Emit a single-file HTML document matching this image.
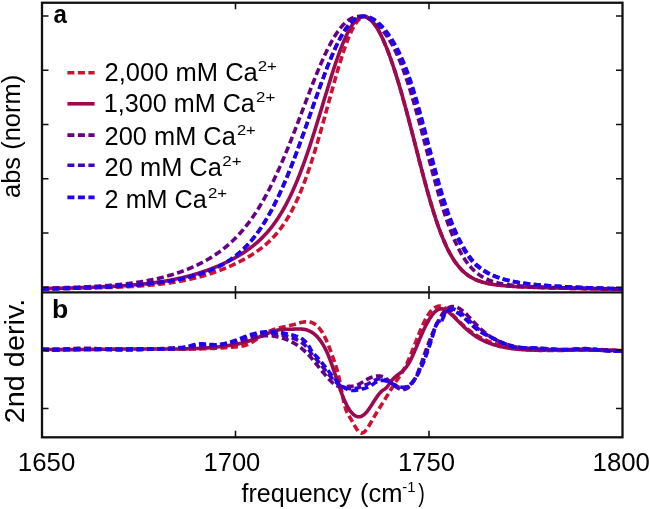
<!DOCTYPE html>
<html><head><meta charset="utf-8"><style>
html,body{margin:0;padding:0;background:#fff;width:650px;height:509px;overflow:hidden;}
svg{display:block;}
.t text{font-family:"Liberation Sans",sans-serif;fill:#000;}
</style></head><body>
<svg width="650" height="509" viewBox="0 0 650 509">
<rect width="650" height="509" fill="#fff"/>
<defs><clipPath id="ca"><rect x="42.0" y="2.75" width="580.5" height="289.7"/></clipPath><clipPath id="cb"><rect x="42.0" y="292.45" width="580.5" height="144.85000000000002"/></clipPath></defs><path d="M42.00,288.76 L43.00,288.75 L44.00,288.74 L45.00,288.73 L46.00,288.72 L47.00,288.70 L48.00,288.69 L49.00,288.68 L50.00,288.67 L51.00,288.65 L52.00,288.64 L53.00,288.63 L54.00,288.61 L55.00,288.60 L56.00,288.59 L57.00,288.57 L58.00,288.56 L59.00,288.54 L60.00,288.53 L61.00,288.52 L62.00,288.50 L63.00,288.49 L64.00,288.47 L65.00,288.45 L66.00,288.44 L67.00,288.42 L68.00,288.41 L69.00,288.39 L70.00,288.37 L71.00,288.36 L72.00,288.34 L73.00,288.32 L74.00,288.31 L75.00,288.29 L76.00,288.27 L77.00,288.25 L78.00,288.23 L79.00,288.22 L80.00,288.20 L81.00,288.18 L82.00,288.16 L83.00,288.14 L84.00,288.12 L85.00,288.10 L86.00,288.07 L87.00,288.05 L88.00,288.03 L89.00,288.01 L90.00,287.99 L91.00,287.96 L92.00,287.94 L93.00,287.92 L94.00,287.89 L95.00,287.87 L96.00,287.84 L97.00,287.82 L98.00,287.79 L99.00,287.76 L100.00,287.74 L101.00,287.71 L102.00,287.68 L103.00,287.65 L104.00,287.62 L105.00,287.59 L106.00,287.56 L107.00,287.53 L108.00,287.50 L109.00,287.46 L110.00,287.43 L111.00,287.40 L112.00,287.36 L113.00,287.32 L114.00,287.29 L115.00,287.25 L116.00,287.21 L117.00,287.17 L118.00,287.13 L119.00,287.09 L120.00,287.05 L121.00,287.01 L122.00,286.96 L123.00,286.92 L124.00,286.87 L125.00,286.82 L126.00,286.78 L127.00,286.73 L128.00,286.67 L129.00,286.62 L130.00,286.57 L131.00,286.51 L132.00,286.46 L133.00,286.40 L134.00,286.34 L135.00,286.28 L136.00,286.22 L137.00,286.16 L138.00,286.09 L139.00,286.03 L140.00,285.96 L141.00,285.89 L142.00,285.82 L143.00,285.74 L144.00,285.67 L145.00,285.59 L146.00,285.51 L147.00,285.43 L148.00,285.35 L149.00,285.26 L150.00,285.17 L151.00,285.08 L152.00,284.99 L153.00,284.90 L154.00,284.80 L155.00,284.70 L156.00,284.60 L157.00,284.49 L158.00,284.39 L159.00,284.28 L160.00,284.17 L161.00,284.05 L162.00,283.93 L163.00,283.81 L164.00,283.69 L165.00,283.56 L166.00,283.43 L167.00,283.30 L168.00,283.17 L169.00,283.03 L170.00,282.89 L171.00,282.74 L172.00,282.59 L173.00,282.44 L174.00,282.28 L175.00,282.12 L176.00,281.96 L177.00,281.79 L178.00,281.62 L179.00,281.45 L180.00,281.27 L181.00,281.09 L182.00,280.90 L183.00,280.71 L184.00,280.51 L185.00,280.32 L186.00,280.11 L187.00,279.91 L188.00,279.69 L189.00,279.48 L190.00,279.26 L191.00,279.03 L192.00,278.80 L193.00,278.57 L194.00,278.33 L195.00,278.08 L196.00,277.84 L197.00,277.58 L198.00,277.32 L199.00,277.06 L200.00,276.79 L201.00,276.52 L202.00,276.24 L203.00,275.96 L204.00,275.67 L205.00,275.37 L206.00,275.08 L207.00,274.77 L208.00,274.46 L209.00,274.15 L210.00,273.83 L211.00,273.50 L212.00,273.17 L213.00,272.83 L214.00,272.49 L215.00,272.14 L216.00,271.79 L217.00,271.43 L218.00,271.06 L219.00,270.69 L220.00,270.32 L221.00,269.93 L222.00,269.55 L223.00,269.15 L224.00,268.75 L225.00,268.34 L226.00,267.93 L227.00,267.51 L228.00,267.09 L229.00,266.66 L230.00,266.22 L231.00,265.78 L232.00,265.32 L233.00,264.87 L234.00,264.40 L235.00,263.93 L236.00,263.45 L237.00,262.97 L238.00,262.47 L239.00,261.97 L240.00,261.46 L241.00,260.95 L242.00,260.42 L243.00,259.89 L244.00,259.35 L245.00,258.80 L246.00,258.24 L247.00,257.66 L248.00,257.08 L249.00,256.49 L250.00,255.89 L251.00,255.28 L252.00,254.65 L253.00,254.02 L254.00,253.37 L255.00,252.70 L256.00,252.03 L257.00,251.33 L258.00,250.63 L259.00,249.90 L260.00,249.16 L261.00,248.41 L262.00,247.63 L263.00,246.84 L264.00,246.02 L265.00,245.19 L266.00,244.33 L267.00,243.45 L268.00,242.54 L269.00,241.61 L270.00,240.65 L271.00,239.67 L272.00,238.66 L273.00,237.62 L274.00,236.54 L275.00,235.44 L276.00,234.30 L277.00,233.12 L278.00,231.91 L279.00,230.66 L280.00,229.37 L281.00,228.04 L282.00,226.67 L283.00,225.26 L284.00,223.80 L285.00,222.29 L286.00,220.73 L287.00,219.13 L288.00,217.48 L289.00,215.77 L290.00,214.01 L291.00,212.20 L292.00,210.33 L293.00,208.40 L294.00,206.42 L295.00,204.38 L296.00,202.28 L297.00,200.11 L298.00,197.89 L299.00,195.60 L300.00,193.25 L301.00,190.84 L302.00,188.37 L303.00,185.83 L304.00,183.23 L305.00,180.57 L306.00,177.84 L307.00,175.05 L308.00,172.20 L309.00,169.29 L310.00,166.32 L311.00,163.29 L312.00,160.20 L313.00,157.06 L314.00,153.87 L315.00,150.62 L316.00,147.32 L317.00,143.98 L318.00,140.59 L319.00,137.16 L320.00,133.69 L321.00,130.18 L322.00,126.65 L323.00,123.08 L324.00,119.49 L325.00,115.89 L326.00,112.26 L327.00,108.62 L328.00,104.98 L329.00,101.34 L330.00,97.69 L331.00,94.06 L332.00,90.44 L333.00,86.84 L334.00,83.26 L335.00,79.72 L336.00,76.21 L337.00,72.74 L338.00,69.33 L339.00,65.96 L340.00,62.66 L341.00,59.43 L342.00,56.26 L343.00,53.18 L344.00,50.19 L345.00,47.28 L346.00,44.48 L347.00,41.78 L348.00,39.19 L349.00,36.72 L350.00,34.36 L351.00,32.14 L352.00,30.05 L353.00,28.09 L354.00,26.27 L355.00,24.60 L356.00,23.08 L357.00,21.71 L358.00,20.50 L359.00,19.44 L360.00,18.54 L361.00,17.79 L362.00,17.21 L363.00,16.78 L364.00,16.51 L365.00,16.47 L366.00,16.65 L367.00,17.04 L368.00,17.63 L369.00,18.41 L370.00,19.35 L371.00,20.23 L372.00,21.24 L373.00,22.36 L374.00,23.59 L375.00,24.93 L376.00,26.39 L377.00,27.95 L378.00,29.62 L379.00,31.38 L380.00,33.25 L381.00,35.21 L382.00,37.27 L383.00,39.41 L384.00,41.65 L385.00,43.98 L386.00,46.39 L387.00,48.88 L388.00,51.45 L389.00,54.10 L390.00,56.83 L391.00,59.63 L392.00,62.51 L393.00,65.46 L394.00,68.47 L395.00,71.56 L396.00,74.70 L397.00,77.92 L398.00,81.19 L399.00,84.52 L400.00,87.92 L401.00,91.36 L402.00,94.86 L403.00,98.41 L404.00,102.01 L405.00,105.65 L406.00,109.34 L407.00,113.06 L408.00,116.82 L409.00,120.61 L410.00,124.43 L411.00,128.28 L412.00,132.14 L413.00,136.03 L414.00,139.92 L415.00,143.82 L416.00,147.73 L417.00,151.64 L418.00,155.54 L419.00,159.43 L420.00,163.30 L421.00,167.16 L422.00,170.99 L423.00,174.79 L424.00,178.56 L425.00,182.29 L426.00,185.98 L427.00,189.62 L428.00,193.21 L429.00,196.74 L430.00,200.21 L431.00,203.62 L432.00,206.97 L433.00,210.24 L434.00,213.44 L435.00,216.57 L436.00,219.62 L437.00,222.59 L438.00,225.48 L439.00,228.28 L440.00,231.00 L441.00,233.64 L442.00,236.19 L443.00,238.65 L444.00,241.03 L445.00,243.32 L446.00,245.53 L447.00,247.65 L448.00,249.68 L449.00,251.64 L450.00,253.51 L451.00,255.30 L452.00,257.01 L453.00,258.64 L454.00,260.20 L455.00,261.68 L456.00,263.09 L457.00,264.43 L458.00,265.71 L459.00,266.92 L460.00,268.06 L461.00,269.15 L462.00,270.18 L463.00,271.15 L464.00,272.07 L465.00,272.94 L466.00,273.76 L467.00,274.53 L468.00,275.26 L469.00,275.95 L470.00,276.59 L471.00,277.20 L472.00,277.78 L473.00,278.32 L474.00,278.82 L475.00,279.30 L476.00,279.75 L477.00,280.17 L478.00,280.57 L479.00,280.94 L480.00,281.29 L481.00,281.62 L482.00,281.93 L483.00,282.22 L484.00,282.50 L485.00,282.76 L486.00,283.00 L487.00,283.23 L488.00,283.45 L489.00,283.65 L490.00,283.84 L491.00,284.02 L492.00,284.20 L493.00,284.36 L494.00,284.51 L495.00,284.66 L496.00,284.79 L497.00,284.92 L498.00,285.05 L499.00,285.17 L500.00,285.28 L501.00,285.38 L502.00,285.49 L503.00,285.58 L504.00,285.68 L505.00,285.76 L506.00,285.85 L507.00,285.93 L508.00,286.01 L509.00,286.08 L510.00,286.15 L511.00,286.22 L512.00,286.29 L513.00,286.35 L514.00,286.42 L515.00,286.48 L516.00,286.53 L517.00,286.59 L518.00,286.64 L519.00,286.70 L520.00,286.75 L521.00,286.80 L522.00,286.84 L523.00,286.89 L524.00,286.94 L525.00,286.98 L526.00,287.02 L527.00,287.07 L528.00,287.11 L529.00,287.15 L530.00,287.19 L531.00,287.23 L532.00,287.26 L533.00,287.30 L534.00,287.34 L535.00,287.37 L536.00,287.41 L537.00,287.44 L538.00,287.48 L539.00,287.51 L540.00,287.54 L541.00,287.57 L542.00,287.61 L543.00,287.64 L544.00,287.67 L545.00,287.70 L546.00,287.73 L547.00,287.76 L548.00,287.78 L549.00,287.81 L550.00,287.84 L551.00,287.87 L552.00,287.89 L553.00,287.92 L554.00,287.95 L555.00,287.97 L556.00,288.00 L557.00,288.02 L558.00,288.05 L559.00,288.07 L560.00,288.10 L561.00,288.12 L562.00,288.15 L563.00,288.17 L564.00,288.19 L565.00,288.22 L566.00,288.24 L567.00,288.26 L568.00,288.28 L569.00,288.30 L570.00,288.33 L571.00,288.35 L572.00,288.37 L573.00,288.39 L574.00,288.41 L575.00,288.43 L576.00,288.45 L577.00,288.47 L578.00,288.49 L579.00,288.51 L580.00,288.53 L581.00,288.55 L582.00,288.56 L583.00,288.58 L584.00,288.60 L585.00,288.62 L586.00,288.64 L587.00,288.66 L588.00,288.67 L589.00,288.69 L590.00,288.71 L591.00,288.72 L592.00,288.74 L593.00,288.76 L594.00,288.77 L595.00,288.79 L596.00,288.81 L597.00,288.82 L598.00,288.84 L599.00,288.85 L600.00,288.87 L601.00,288.88 L602.00,288.90 L603.00,288.91 L604.00,288.93 L605.00,288.94 L606.00,288.96 L607.00,288.97 L608.00,288.99 L609.00,289.00 L610.00,289.02 L611.00,289.03 L612.00,289.04 L613.00,289.06 L614.00,289.07 L615.00,289.08 L616.00,289.10 L617.00,289.11 L618.00,289.12 L619.00,289.13 L620.00,289.15 L621.00,289.16 L622.50,289.18" fill="none" stroke="#cf1030" stroke-width="3.6" stroke-dasharray="7 3.5" stroke-dashoffset="9.70" stroke-linejoin="round" clip-path="url(#ca)"/><path d="M42.00,288.59 L43.00,288.57 L44.00,288.55 L45.00,288.53 L46.00,288.51 L47.00,288.50 L48.00,288.48 L49.00,288.46 L50.00,288.44 L51.00,288.42 L52.00,288.40 L53.00,288.38 L54.00,288.35 L55.00,288.33 L56.00,288.31 L57.00,288.29 L58.00,288.27 L59.00,288.25 L60.00,288.22 L61.00,288.20 L62.00,288.18 L63.00,288.15 L64.00,288.13 L65.00,288.11 L66.00,288.08 L67.00,288.06 L68.00,288.03 L69.00,288.01 L70.00,287.98 L71.00,287.96 L72.00,287.93 L73.00,287.90 L74.00,287.87 L75.00,287.85 L76.00,287.82 L77.00,287.79 L78.00,287.76 L79.00,287.73 L80.00,287.70 L81.00,287.67 L82.00,287.64 L83.00,287.61 L84.00,287.58 L85.00,287.55 L86.00,287.51 L87.00,287.48 L88.00,287.44 L89.00,287.41 L90.00,287.37 L91.00,287.34 L92.00,287.30 L93.00,287.27 L94.00,287.23 L95.00,287.19 L96.00,287.15 L97.00,287.11 L98.00,287.07 L99.00,287.03 L100.00,286.99 L101.00,286.94 L102.00,286.90 L103.00,286.85 L104.00,286.81 L105.00,286.76 L106.00,286.72 L107.00,286.67 L108.00,286.62 L109.00,286.57 L110.00,286.52 L111.00,286.46 L112.00,286.41 L113.00,286.36 L114.00,286.30 L115.00,286.24 L116.00,286.19 L117.00,286.13 L118.00,286.07 L119.00,286.01 L120.00,285.94 L121.00,285.88 L122.00,285.81 L123.00,285.75 L124.00,285.68 L125.00,285.61 L126.00,285.54 L127.00,285.46 L128.00,285.39 L129.00,285.31 L130.00,285.24 L131.00,285.16 L132.00,285.07 L133.00,284.99 L134.00,284.91 L135.00,284.82 L136.00,284.73 L137.00,284.64 L138.00,284.55 L139.00,284.45 L140.00,284.36 L141.00,284.26 L142.00,284.15 L143.00,284.05 L144.00,283.95 L145.00,283.84 L146.00,283.73 L147.00,283.61 L148.00,283.50 L149.00,283.38 L150.00,283.26 L151.00,283.14 L152.00,283.01 L153.00,282.88 L154.00,282.75 L155.00,282.61 L156.00,282.48 L157.00,282.34 L158.00,282.19 L159.00,282.05 L160.00,281.90 L161.00,281.74 L162.00,281.59 L163.00,281.43 L164.00,281.26 L165.00,281.10 L166.00,280.93 L167.00,280.76 L168.00,280.58 L169.00,280.40 L170.00,280.21 L171.00,280.03 L172.00,279.83 L173.00,279.64 L174.00,279.44 L175.00,279.24 L176.00,279.03 L177.00,278.82 L178.00,278.60 L179.00,278.38 L180.00,278.16 L181.00,277.93 L182.00,277.70 L183.00,277.46 L184.00,277.22 L185.00,276.97 L186.00,276.72 L187.00,276.47 L188.00,276.21 L189.00,275.94 L190.00,275.67 L191.00,275.40 L192.00,275.12 L193.00,274.84 L194.00,274.55 L195.00,274.26 L196.00,273.96 L197.00,273.66 L198.00,273.35 L199.00,273.04 L200.00,272.72 L201.00,272.39 L202.00,272.06 L203.00,271.73 L204.00,271.39 L205.00,271.05 L206.00,270.70 L207.00,270.34 L208.00,269.98 L209.00,269.61 L210.00,269.24 L211.00,268.86 L212.00,268.48 L213.00,268.09 L214.00,267.69 L215.00,267.29 L216.00,266.88 L217.00,266.47 L218.00,266.04 L219.00,265.62 L220.00,265.18 L221.00,264.74 L222.00,264.30 L223.00,263.84 L224.00,263.38 L225.00,262.91 L226.00,262.44 L227.00,261.95 L228.00,261.46 L229.00,260.97 L230.00,260.46 L231.00,259.94 L232.00,259.42 L233.00,258.89 L234.00,258.35 L235.00,257.80 L236.00,257.24 L237.00,256.67 L238.00,256.09 L239.00,255.50 L240.00,254.89 L241.00,254.28 L242.00,253.66 L243.00,253.02 L244.00,252.37 L245.00,251.71 L246.00,251.03 L247.00,250.34 L248.00,249.63 L249.00,248.91 L250.00,248.18 L251.00,247.43 L252.00,246.66 L253.00,245.87 L254.00,245.07 L255.00,244.24 L256.00,243.40 L257.00,242.54 L258.00,241.65 L259.00,240.74 L260.00,239.81 L261.00,238.86 L262.00,237.88 L263.00,236.88 L264.00,235.85 L265.00,234.79 L266.00,233.70 L267.00,232.59 L268.00,231.45 L269.00,230.27 L270.00,229.06 L271.00,227.82 L272.00,226.55 L273.00,225.24 L274.00,223.89 L275.00,222.51 L276.00,221.09 L277.00,219.63 L278.00,218.13 L279.00,216.60 L280.00,215.01 L281.00,213.39 L282.00,211.72 L283.00,210.01 L284.00,208.25 L285.00,206.45 L286.00,204.60 L287.00,202.70 L288.00,200.76 L289.00,198.76 L290.00,196.72 L291.00,194.62 L292.00,192.48 L293.00,190.29 L294.00,188.04 L295.00,185.74 L296.00,183.40 L297.00,181.00 L298.00,178.55 L299.00,176.05 L300.00,173.49 L301.00,170.89 L302.00,168.24 L303.00,165.54 L304.00,162.79 L305.00,160.00 L306.00,157.16 L307.00,154.27 L308.00,151.35 L309.00,148.37 L310.00,145.36 L311.00,142.32 L312.00,139.23 L313.00,136.11 L314.00,132.96 L315.00,129.78 L316.00,126.57 L317.00,123.34 L318.00,120.09 L319.00,116.82 L320.00,113.54 L321.00,110.24 L322.00,106.94 L323.00,103.63 L324.00,100.32 L325.00,97.02 L326.00,93.72 L327.00,90.43 L328.00,87.17 L329.00,83.92 L330.00,80.69 L331.00,77.50 L332.00,74.34 L333.00,71.22 L334.00,68.14 L335.00,65.11 L336.00,62.13 L337.00,59.21 L338.00,56.35 L339.00,53.56 L340.00,50.83 L341.00,48.19 L342.00,45.62 L343.00,43.14 L344.00,40.75 L345.00,38.45 L346.00,36.25 L347.00,34.15 L348.00,32.16 L349.00,30.27 L350.00,28.49 L351.00,26.83 L352.00,25.29 L353.00,23.87 L354.00,22.57 L355.00,21.40 L356.00,20.35 L357.00,19.43 L358.00,18.64 L359.00,17.98 L360.00,17.45 L361.00,17.06 L362.00,16.79 L363.00,16.66 L364.00,16.66 L365.00,16.79 L366.00,17.05 L367.00,17.44 L368.00,17.95 L369.00,18.59 L370.00,19.35 L371.00,20.23 L372.00,21.24 L373.00,22.36 L374.00,23.59 L375.00,24.93 L376.00,26.39 L377.00,27.95 L378.00,29.62 L379.00,31.38 L380.00,33.25 L381.00,35.21 L382.00,37.27 L383.00,39.41 L384.00,41.65 L385.00,43.98 L386.00,46.39 L387.00,48.88 L388.00,51.45 L389.00,54.10 L390.00,56.83 L391.00,59.63 L392.00,62.51 L393.00,65.46 L394.00,68.47 L395.00,71.56 L396.00,74.70 L397.00,77.92 L398.00,81.19 L399.00,84.52 L400.00,87.92 L401.00,91.36 L402.00,94.86 L403.00,98.41 L404.00,102.01 L405.00,105.65 L406.00,109.34 L407.00,113.06 L408.00,116.82 L409.00,120.61 L410.00,124.43 L411.00,128.28 L412.00,132.14 L413.00,136.03 L414.00,139.92 L415.00,143.82 L416.00,147.73 L417.00,151.64 L418.00,155.54 L419.00,159.43 L420.00,163.30 L421.00,167.16 L422.00,170.99 L423.00,174.79 L424.00,178.56 L425.00,182.29 L426.00,185.98 L427.00,189.62 L428.00,193.21 L429.00,196.74 L430.00,200.21 L431.00,203.62 L432.00,206.97 L433.00,210.24 L434.00,213.44 L435.00,216.57 L436.00,219.62 L437.00,222.59 L438.00,225.48 L439.00,228.28 L440.00,231.00 L441.00,233.64 L442.00,236.19 L443.00,238.65 L444.00,241.03 L445.00,243.32 L446.00,245.53 L447.00,247.65 L448.00,249.68 L449.00,251.64 L450.00,253.51 L451.00,255.30 L452.00,257.01 L453.00,258.64 L454.00,260.20 L455.00,261.68 L456.00,263.09 L457.00,264.43 L458.00,265.71 L459.00,266.92 L460.00,268.06 L461.00,269.15 L462.00,270.18 L463.00,271.15 L464.00,272.07 L465.00,272.94 L466.00,273.76 L467.00,274.53 L468.00,275.26 L469.00,275.95 L470.00,276.59 L471.00,277.20 L472.00,277.78 L473.00,278.32 L474.00,278.82 L475.00,279.30 L476.00,279.75 L477.00,280.17 L478.00,280.57 L479.00,280.94 L480.00,281.29 L481.00,281.62 L482.00,281.93 L483.00,282.22 L484.00,282.50 L485.00,282.76 L486.00,283.00 L487.00,283.23 L488.00,283.45 L489.00,283.65 L490.00,283.84 L491.00,284.02 L492.00,284.20 L493.00,284.36 L494.00,284.51 L495.00,284.66 L496.00,284.79 L497.00,284.92 L498.00,285.05 L499.00,285.17 L500.00,285.28 L501.00,285.38 L502.00,285.49 L503.00,285.58 L504.00,285.68 L505.00,285.76 L506.00,285.85 L507.00,285.93 L508.00,286.01 L509.00,286.08 L510.00,286.15 L511.00,286.22 L512.00,286.29 L513.00,286.35 L514.00,286.42 L515.00,286.48 L516.00,286.53 L517.00,286.59 L518.00,286.64 L519.00,286.70 L520.00,286.75 L521.00,286.80 L522.00,286.84 L523.00,286.89 L524.00,286.94 L525.00,286.98 L526.00,287.02 L527.00,287.07 L528.00,287.11 L529.00,287.15 L530.00,287.19 L531.00,287.23 L532.00,287.26 L533.00,287.30 L534.00,287.34 L535.00,287.37 L536.00,287.41 L537.00,287.44 L538.00,287.48 L539.00,287.51 L540.00,287.54 L541.00,287.57 L542.00,287.61 L543.00,287.64 L544.00,287.67 L545.00,287.70 L546.00,287.73 L547.00,287.76 L548.00,287.78 L549.00,287.81 L550.00,287.84 L551.00,287.87 L552.00,287.89 L553.00,287.92 L554.00,287.95 L555.00,287.97 L556.00,288.00 L557.00,288.02 L558.00,288.05 L559.00,288.07 L560.00,288.10 L561.00,288.12 L562.00,288.15 L563.00,288.17 L564.00,288.19 L565.00,288.22 L566.00,288.24 L567.00,288.26 L568.00,288.28 L569.00,288.30 L570.00,288.33 L571.00,288.35 L572.00,288.37 L573.00,288.39 L574.00,288.41 L575.00,288.43 L576.00,288.45 L577.00,288.47 L578.00,288.49 L579.00,288.51 L580.00,288.53 L581.00,288.55 L582.00,288.56 L583.00,288.58 L584.00,288.60 L585.00,288.62 L586.00,288.64 L587.00,288.66 L588.00,288.67 L589.00,288.69 L590.00,288.71 L591.00,288.72 L592.00,288.74 L593.00,288.76 L594.00,288.77 L595.00,288.79 L596.00,288.81 L597.00,288.82 L598.00,288.84 L599.00,288.85 L600.00,288.87 L601.00,288.88 L602.00,288.90 L603.00,288.91 L604.00,288.93 L605.00,288.94 L606.00,288.96 L607.00,288.97 L608.00,288.99 L609.00,289.00 L610.00,289.02 L611.00,289.03 L612.00,289.04 L613.00,289.06 L614.00,289.07 L615.00,289.08 L616.00,289.10 L617.00,289.11 L618.00,289.12 L619.00,289.13 L620.00,289.15 L621.00,289.16 L622.50,289.18" fill="none" stroke="#9b0a50" stroke-width="3.6" stroke-linejoin="round" clip-path="url(#ca)"/><path d="M42.00,288.27 L43.00,288.24 L44.00,288.22 L45.00,288.20 L46.00,288.18 L47.00,288.15 L48.00,288.13 L49.00,288.10 L50.00,288.08 L51.00,288.05 L52.00,288.03 L53.00,288.00 L54.00,287.98 L55.00,287.95 L56.00,287.92 L57.00,287.90 L58.00,287.87 L59.00,287.84 L60.00,287.81 L61.00,287.78 L62.00,287.75 L63.00,287.72 L64.00,287.69 L65.00,287.66 L66.00,287.63 L67.00,287.60 L68.00,287.56 L69.00,287.53 L70.00,287.50 L71.00,287.46 L72.00,287.43 L73.00,287.39 L74.00,287.35 L75.00,287.32 L76.00,287.28 L77.00,287.24 L78.00,287.20 L79.00,287.16 L80.00,287.12 L81.00,287.07 L82.00,287.03 L83.00,286.99 L84.00,286.94 L85.00,286.90 L86.00,286.85 L87.00,286.80 L88.00,286.75 L89.00,286.70 L90.00,286.65 L91.00,286.60 L92.00,286.55 L93.00,286.49 L94.00,286.44 L95.00,286.38 L96.00,286.32 L97.00,286.26 L98.00,286.20 L99.00,286.14 L100.00,286.08 L101.00,286.01 L102.00,285.95 L103.00,285.88 L104.00,285.81 L105.00,285.74 L106.00,285.67 L107.00,285.59 L108.00,285.52 L109.00,285.44 L110.00,285.36 L111.00,285.28 L112.00,285.20 L113.00,285.11 L114.00,285.03 L115.00,284.94 L116.00,284.85 L117.00,284.75 L118.00,284.66 L119.00,284.56 L120.00,284.46 L121.00,284.36 L122.00,284.25 L123.00,284.15 L124.00,284.04 L125.00,283.93 L126.00,283.81 L127.00,283.69 L128.00,283.58 L129.00,283.45 L130.00,283.33 L131.00,283.20 L132.00,283.07 L133.00,282.93 L134.00,282.80 L135.00,282.66 L136.00,282.51 L137.00,282.37 L138.00,282.22 L139.00,282.06 L140.00,281.91 L141.00,281.75 L142.00,281.58 L143.00,281.42 L144.00,281.24 L145.00,281.07 L146.00,280.89 L147.00,280.71 L148.00,280.52 L149.00,280.33 L150.00,280.14 L151.00,279.94 L152.00,279.74 L153.00,279.53 L154.00,279.32 L155.00,279.11 L156.00,278.89 L157.00,278.66 L158.00,278.43 L159.00,278.20 L160.00,277.96 L161.00,277.72 L162.00,277.47 L163.00,277.22 L164.00,276.96 L165.00,276.70 L166.00,276.43 L167.00,276.16 L168.00,275.88 L169.00,275.59 L170.00,275.30 L171.00,275.01 L172.00,274.71 L173.00,274.40 L174.00,274.09 L175.00,273.77 L176.00,273.45 L177.00,273.12 L178.00,272.79 L179.00,272.44 L180.00,272.10 L181.00,271.74 L182.00,271.38 L183.00,271.01 L184.00,270.64 L185.00,270.26 L186.00,269.87 L187.00,269.47 L188.00,269.07 L189.00,268.66 L190.00,268.25 L191.00,267.82 L192.00,267.39 L193.00,266.95 L194.00,266.50 L195.00,266.05 L196.00,265.58 L197.00,265.11 L198.00,264.63 L199.00,264.14 L200.00,263.64 L201.00,263.14 L202.00,262.62 L203.00,262.09 L204.00,261.55 L205.00,261.01 L206.00,260.45 L207.00,259.89 L208.00,259.31 L209.00,258.72 L210.00,258.12 L211.00,257.51 L212.00,256.89 L213.00,256.25 L214.00,255.60 L215.00,254.94 L216.00,254.27 L217.00,253.58 L218.00,252.88 L219.00,252.17 L220.00,251.44 L221.00,250.70 L222.00,249.94 L223.00,249.17 L224.00,248.38 L225.00,247.58 L226.00,246.75 L227.00,245.92 L228.00,245.06 L229.00,244.19 L230.00,243.29 L231.00,242.38 L232.00,241.45 L233.00,240.50 L234.00,239.53 L235.00,238.55 L236.00,237.53 L237.00,236.50 L238.00,235.45 L239.00,234.37 L240.00,233.27 L241.00,232.15 L242.00,231.01 L243.00,229.84 L244.00,228.64 L245.00,227.42 L246.00,226.18 L247.00,224.91 L248.00,223.61 L249.00,222.29 L250.00,220.94 L251.00,219.56 L252.00,218.15 L253.00,216.72 L254.00,215.26 L255.00,213.76 L256.00,212.24 L257.00,210.69 L258.00,209.12 L259.00,207.51 L260.00,205.87 L261.00,204.20 L262.00,202.50 L263.00,200.76 L264.00,199.00 L265.00,197.21 L266.00,195.38 L267.00,193.53 L268.00,191.64 L269.00,189.73 L270.00,187.78 L271.00,185.80 L272.00,183.79 L273.00,181.75 L274.00,179.68 L275.00,177.58 L276.00,175.45 L277.00,173.28 L278.00,171.10 L279.00,168.88 L280.00,166.63 L281.00,164.36 L282.00,162.06 L283.00,159.73 L284.00,157.38 L285.00,155.00 L286.00,152.60 L287.00,150.17 L288.00,147.72 L289.00,145.25 L290.00,142.76 L291.00,140.25 L292.00,137.73 L293.00,135.18 L294.00,132.62 L295.00,130.04 L296.00,127.45 L297.00,124.85 L298.00,122.24 L299.00,119.62 L300.00,117.00 L301.00,114.36 L302.00,111.73 L303.00,109.09 L304.00,106.45 L305.00,103.81 L306.00,101.18 L307.00,98.55 L308.00,95.93 L309.00,93.32 L310.00,90.72 L311.00,88.14 L312.00,85.57 L313.00,83.01 L314.00,80.48 L315.00,77.97 L316.00,75.49 L317.00,73.03 L318.00,70.60 L319.00,68.20 L320.00,65.84 L321.00,63.51 L322.00,61.21 L323.00,58.96 L324.00,56.75 L325.00,54.59 L326.00,52.47 L327.00,50.39 L328.00,48.37 L329.00,46.40 L330.00,44.48 L331.00,42.62 L332.00,40.81 L333.00,39.07 L334.00,37.38 L335.00,35.75 L336.00,34.19 L337.00,32.69 L338.00,31.25 L339.00,29.88 L340.00,28.58 L341.00,27.34 L342.00,26.17 L343.00,25.07 L344.00,24.03 L345.00,23.06 L346.00,22.16 L347.00,21.33 L348.00,20.57 L349.00,19.87 L350.00,19.24 L351.00,18.67 L352.00,18.17 L353.00,17.73 L354.00,17.36 L355.00,17.05 L356.00,16.80 L357.00,16.60 L358.00,16.47 L359.00,16.39 L360.00,16.38 L361.00,16.42 L362.00,16.52 L363.00,16.69 L364.00,16.92 L365.00,17.22 L366.00,17.57 L367.00,17.98 L368.00,18.45 L369.00,18.97 L370.00,19.56 L371.00,20.13 L372.00,20.76 L373.00,21.43 L374.00,22.15 L375.00,22.92 L376.00,23.73 L377.00,24.60 L378.00,25.51 L379.00,26.48 L380.00,27.50 L381.00,28.57 L382.00,29.70 L383.00,30.88 L384.00,32.12 L385.00,33.43 L386.00,34.79 L387.00,36.22 L388.00,37.72 L389.00,39.28 L390.00,40.91 L391.00,42.61 L392.00,44.39 L393.00,46.24 L394.00,48.16 L395.00,50.17 L396.00,52.25 L397.00,54.41 L398.00,56.65 L399.00,58.97 L400.00,61.38 L401.00,63.86 L402.00,66.43 L403.00,69.07 L404.00,71.80 L405.00,74.61 L406.00,77.49 L407.00,80.46 L408.00,83.50 L409.00,86.61 L410.00,89.79 L411.00,93.04 L412.00,96.36 L413.00,99.74 L414.00,103.18 L415.00,106.68 L416.00,110.22 L417.00,113.82 L418.00,117.46 L419.00,121.14 L420.00,124.85 L421.00,128.59 L422.00,132.36 L423.00,136.15 L424.00,139.95 L425.00,143.77 L426.00,147.59 L427.00,151.41 L428.00,155.22 L429.00,159.02 L430.00,162.81 L431.00,166.58 L432.00,170.33 L433.00,174.04 L434.00,177.72 L435.00,181.36 L436.00,184.96 L437.00,188.51 L438.00,192.01 L439.00,195.46 L440.00,198.85 L441.00,202.18 L442.00,205.44 L443.00,208.64 L444.00,211.77 L445.00,214.82 L446.00,217.81 L447.00,220.72 L448.00,223.55 L449.00,226.30 L450.00,228.98 L451.00,231.57 L452.00,234.09 L453.00,236.52 L454.00,238.88 L455.00,241.15 L456.00,243.35 L457.00,245.46 L458.00,247.50 L459.00,249.46 L460.00,251.34 L461.00,253.15 L462.00,254.88 L463.00,256.54 L464.00,258.13 L465.00,259.65 L466.00,261.10 L467.00,262.48 L468.00,263.80 L469.00,265.06 L470.00,266.26 L471.00,267.39 L472.00,268.48 L473.00,269.50 L474.00,270.48 L475.00,271.40 L476.00,272.28 L477.00,273.11 L478.00,273.89 L479.00,274.64 L480.00,275.34 L481.00,276.00 L482.00,276.63 L483.00,277.22 L484.00,277.78 L485.00,278.31 L486.00,278.80 L487.00,279.27 L488.00,279.71 L489.00,280.13 L490.00,280.52 L491.00,280.89 L492.00,281.24 L493.00,281.56 L494.00,281.87 L495.00,282.16 L496.00,282.44 L497.00,282.70 L498.00,282.94 L499.00,283.17 L500.00,283.39 L501.00,283.59 L502.00,283.78 L503.00,283.97 L504.00,284.14 L505.00,284.30 L506.00,284.46 L507.00,284.60 L508.00,284.74 L509.00,284.87 L510.00,285.00 L511.00,285.12 L512.00,285.23 L513.00,285.34 L514.00,285.44 L515.00,285.54 L516.00,285.63 L517.00,285.72 L518.00,285.81 L519.00,285.89 L520.00,285.97 L521.00,286.04 L522.00,286.11 L523.00,286.18 L524.00,286.25 L525.00,286.32 L526.00,286.38 L527.00,286.44 L528.00,286.50 L529.00,286.55 L530.00,286.61 L531.00,286.66 L532.00,286.71 L533.00,286.76 L534.00,286.81 L535.00,286.85 L536.00,286.90 L537.00,286.94 L538.00,286.99 L539.00,287.03 L540.00,287.07 L541.00,287.11 L542.00,287.15 L543.00,287.19 L544.00,287.23 L545.00,287.26 L546.00,287.30 L547.00,287.34 L548.00,287.37 L549.00,287.41 L550.00,287.44 L551.00,287.47 L552.00,287.50 L553.00,287.54 L554.00,287.57 L555.00,287.60 L556.00,287.63 L557.00,287.66 L558.00,287.69 L559.00,287.72 L560.00,287.74 L561.00,287.77 L562.00,287.80 L563.00,287.83 L564.00,287.85 L565.00,287.88 L566.00,287.91 L567.00,287.93 L568.00,287.96 L569.00,287.98 L570.00,288.01 L571.00,288.03 L572.00,288.05 L573.00,288.08 L574.00,288.10 L575.00,288.12 L576.00,288.15 L577.00,288.17 L578.00,288.19 L579.00,288.21 L580.00,288.24 L581.00,288.26 L582.00,288.28 L583.00,288.30 L584.00,288.32 L585.00,288.34 L586.00,288.36 L587.00,288.38 L588.00,288.40 L589.00,288.42 L590.00,288.44 L591.00,288.46 L592.00,288.48 L593.00,288.50 L594.00,288.52 L595.00,288.53 L596.00,288.55 L597.00,288.57 L598.00,288.59 L599.00,288.61 L600.00,288.62 L601.00,288.64 L602.00,288.66 L603.00,288.67 L604.00,288.69 L605.00,288.71 L606.00,288.72 L607.00,288.74 L608.00,288.76 L609.00,288.77 L610.00,288.79 L611.00,288.80 L612.00,288.82 L613.00,288.83 L614.00,288.85 L615.00,288.86 L616.00,288.88 L617.00,288.89 L618.00,288.91 L619.00,288.92 L620.00,288.94 L621.00,288.95 L622.50,288.97" fill="none" stroke="#680084" stroke-width="3.6" stroke-dasharray="7 3.5" stroke-dashoffset="0.02" stroke-linejoin="round" clip-path="url(#ca)"/><path d="M42.00,289.07 L43.00,289.05 L44.00,289.03 L45.00,289.00 L46.00,288.98 L47.00,288.96 L48.00,288.93 L49.00,288.91 L50.00,288.88 L51.00,288.86 L52.00,288.83 L53.00,288.81 L54.00,288.78 L55.00,288.75 L56.00,288.73 L57.00,288.70 L58.00,288.67 L59.00,288.64 L60.00,288.62 L61.00,288.59 L62.00,288.56 L63.00,288.53 L64.00,288.50 L65.00,288.47 L66.00,288.44 L67.00,288.41 L68.00,288.38 L69.00,288.35 L70.00,288.32 L71.00,288.29 L72.00,288.26 L73.00,288.22 L74.00,288.19 L75.00,288.16 L76.00,288.13 L77.00,288.09 L78.00,288.06 L79.00,288.02 L80.00,287.99 L81.00,287.95 L82.00,287.92 L83.00,287.88 L84.00,287.84 L85.00,287.80 L86.00,287.77 L87.00,287.73 L88.00,287.69 L89.00,287.65 L90.00,287.61 L91.00,287.57 L92.00,287.53 L93.00,287.49 L94.00,287.44 L95.00,287.40 L96.00,287.36 L97.00,287.31 L98.00,287.27 L99.00,287.22 L100.00,287.18 L101.00,287.13 L102.00,287.08 L103.00,287.03 L104.00,286.99 L105.00,286.94 L106.00,286.89 L107.00,286.83 L108.00,286.78 L109.00,286.73 L110.00,286.68 L111.00,286.62 L112.00,286.57 L113.00,286.51 L114.00,286.45 L115.00,286.40 L116.00,286.34 L117.00,286.28 L118.00,286.22 L119.00,286.15 L120.00,286.09 L121.00,286.03 L122.00,285.96 L123.00,285.90 L124.00,285.83 L125.00,285.76 L126.00,285.69 L127.00,285.62 L128.00,285.55 L129.00,285.48 L130.00,285.40 L131.00,285.32 L132.00,285.25 L133.00,285.17 L134.00,285.09 L135.00,285.01 L136.00,284.92 L137.00,284.84 L138.00,284.75 L139.00,284.67 L140.00,284.58 L141.00,284.49 L142.00,284.39 L143.00,284.30 L144.00,284.20 L145.00,284.10 L146.00,284.00 L147.00,283.90 L148.00,283.80 L149.00,283.69 L150.00,283.58 L151.00,283.47 L152.00,283.36 L153.00,283.25 L154.00,283.13 L155.00,283.01 L156.00,282.89 L157.00,282.77 L158.00,282.64 L159.00,282.51 L160.00,282.38 L161.00,282.25 L162.00,282.11 L163.00,281.97 L164.00,281.83 L165.00,281.68 L166.00,281.53 L167.00,281.38 L168.00,281.23 L169.00,281.07 L170.00,280.91 L171.00,280.75 L172.00,280.58 L173.00,280.41 L174.00,280.23 L175.00,280.05 L176.00,279.87 L177.00,279.69 L178.00,279.49 L179.00,279.30 L180.00,279.10 L181.00,278.90 L182.00,278.69 L183.00,278.48 L184.00,278.26 L185.00,278.04 L186.00,277.82 L187.00,277.58 L188.00,277.35 L189.00,277.11 L190.00,276.86 L191.00,276.61 L192.00,276.35 L193.00,276.08 L194.00,275.81 L195.00,275.53 L196.00,275.25 L197.00,274.96 L198.00,274.66 L199.00,274.36 L200.00,274.05 L201.00,273.73 L202.00,273.40 L203.00,273.07 L204.00,272.73 L205.00,272.37 L206.00,272.02 L207.00,271.65 L208.00,271.27 L209.00,270.88 L210.00,270.49 L211.00,270.08 L212.00,269.66 L213.00,269.23 L214.00,268.79 L215.00,268.34 L216.00,267.88 L217.00,267.41 L218.00,266.92 L219.00,266.42 L220.00,265.91 L221.00,265.39 L222.00,264.85 L223.00,264.29 L224.00,263.72 L225.00,263.14 L226.00,262.54 L227.00,261.93 L228.00,261.30 L229.00,260.65 L230.00,259.98 L231.00,259.30 L232.00,258.59 L233.00,257.87 L234.00,257.13 L235.00,256.37 L236.00,255.59 L237.00,254.79 L238.00,253.96 L239.00,253.12 L240.00,252.25 L241.00,251.36 L242.00,250.44 L243.00,249.50 L244.00,248.53 L245.00,247.54 L246.00,246.53 L247.00,245.48 L248.00,244.41 L249.00,243.31 L250.00,242.19 L251.00,241.03 L252.00,239.85 L253.00,238.63 L254.00,237.39 L255.00,236.11 L256.00,234.80 L257.00,233.46 L258.00,232.09 L259.00,230.68 L260.00,229.24 L261.00,227.77 L262.00,226.27 L263.00,224.72 L264.00,223.15 L265.00,221.54 L266.00,219.89 L267.00,218.21 L268.00,216.49 L269.00,214.73 L270.00,212.94 L271.00,211.11 L272.00,209.25 L273.00,207.35 L274.00,205.41 L275.00,203.43 L276.00,201.42 L277.00,199.37 L278.00,197.29 L279.00,195.17 L280.00,193.01 L281.00,190.82 L282.00,188.59 L283.00,186.33 L284.00,184.03 L285.00,181.70 L286.00,179.34 L287.00,176.94 L288.00,174.51 L289.00,172.05 L290.00,169.56 L291.00,167.04 L292.00,164.49 L293.00,161.91 L294.00,159.30 L295.00,156.67 L296.00,154.02 L297.00,151.34 L298.00,148.64 L299.00,145.92 L300.00,143.17 L301.00,140.41 L302.00,137.64 L303.00,134.84 L304.00,132.04 L305.00,129.22 L306.00,126.39 L307.00,123.55 L308.00,120.71 L309.00,117.86 L310.00,115.00 L311.00,112.15 L312.00,109.29 L313.00,106.44 L314.00,103.59 L315.00,100.75 L316.00,97.92 L317.00,95.09 L318.00,92.28 L319.00,89.49 L320.00,86.71 L321.00,83.95 L322.00,81.22 L323.00,78.51 L324.00,75.82 L325.00,73.17 L326.00,70.55 L327.00,67.96 L328.00,65.41 L329.00,62.89 L330.00,60.42 L331.00,58.00 L332.00,55.62 L333.00,53.29 L334.00,51.01 L335.00,48.79 L336.00,46.62 L337.00,44.51 L338.00,42.47 L339.00,40.48 L340.00,38.57 L341.00,36.72 L342.00,34.94 L343.00,33.24 L344.00,31.61 L345.00,30.06 L346.00,28.58 L347.00,27.18 L348.00,25.87 L349.00,24.63 L350.00,23.48 L351.00,22.41 L352.00,21.43 L353.00,20.54 L354.00,19.72 L355.00,19.00 L356.00,18.36 L357.00,17.80 L358.00,17.33 L359.00,16.94 L360.00,16.64 L361.00,16.41 L362.00,16.27 L363.00,16.21 L364.00,16.22 L365.00,16.31 L366.00,16.48 L367.00,16.71 L368.00,17.02 L369.00,17.40 L370.00,17.84 L371.00,18.34 L372.00,18.91 L373.00,19.54 L374.00,20.23 L375.00,20.97 L376.00,21.77 L377.00,22.62 L378.00,23.52 L379.00,24.48 L380.00,25.48 L381.00,26.54 L382.00,27.64 L383.00,28.79 L384.00,29.99 L385.00,31.24 L386.00,32.54 L387.00,33.89 L388.00,35.29 L389.00,36.75 L390.00,38.26 L391.00,39.83 L392.00,41.45 L393.00,43.14 L394.00,44.89 L395.00,46.70 L396.00,48.58 L397.00,50.53 L398.00,52.55 L399.00,54.65 L400.00,56.82 L401.00,59.06 L402.00,61.39 L403.00,63.80 L404.00,66.29 L405.00,68.86 L406.00,71.51 L407.00,74.25 L408.00,77.07 L409.00,79.98 L410.00,82.96 L411.00,86.03 L412.00,89.18 L413.00,92.40 L414.00,95.69 L415.00,99.06 L416.00,102.49 L417.00,105.99 L418.00,109.54 L419.00,113.15 L420.00,116.81 L421.00,120.51 L422.00,124.25 L423.00,128.02 L424.00,131.81 L425.00,135.63 L426.00,139.46 L427.00,143.30 L428.00,147.14 L429.00,150.97 L430.00,154.79 L431.00,158.60 L432.00,162.38 L433.00,166.13 L434.00,169.85 L435.00,173.52 L436.00,177.15 L437.00,180.73 L438.00,184.25 L439.00,187.72 L440.00,191.12 L441.00,194.45 L442.00,197.71 L443.00,200.90 L444.00,204.02 L445.00,207.05 L446.00,210.01 L447.00,212.89 L448.00,215.68 L449.00,218.40 L450.00,221.03 L451.00,223.57 L452.00,226.04 L453.00,228.42 L454.00,230.72 L455.00,232.94 L456.00,235.08 L457.00,237.14 L458.00,239.13 L459.00,241.04 L460.00,242.88 L461.00,244.64 L462.00,246.34 L463.00,248.12 L464.00,249.83 L465.00,251.46 L466.00,253.02 L467.00,254.51 L468.00,255.93 L469.00,257.28 L470.00,258.57 L471.00,259.81 L472.00,260.98 L473.00,262.11 L474.00,263.18 L475.00,264.20 L476.00,265.17 L477.00,266.10 L478.00,266.91 L479.00,267.68 L480.00,268.42 L481.00,269.13 L482.00,269.81 L483.00,270.47 L484.00,271.09 L485.00,271.70 L486.00,272.27 L487.00,272.83 L488.00,273.36 L489.00,273.87 L490.00,274.36 L491.00,274.83 L492.00,275.28 L493.00,275.71 L494.00,276.13 L495.00,276.52 L496.00,276.91 L497.00,277.28 L498.00,277.63 L499.00,277.97 L500.00,278.30 L501.00,278.62 L502.00,278.92 L503.00,279.21 L504.00,279.49 L505.00,279.76 L506.00,280.02 L507.00,280.27 L508.00,280.51 L509.00,280.75 L510.00,280.97 L511.00,281.19 L512.00,281.39 L513.00,281.59 L514.00,281.79 L515.00,281.97 L516.00,282.15 L517.00,282.33 L518.00,282.50 L519.00,282.66 L520.00,282.81 L521.00,282.97 L522.00,283.11 L523.00,283.25 L524.00,283.39 L525.00,283.52 L526.00,283.65 L527.00,283.78 L528.00,283.90 L529.00,284.02 L530.00,284.13 L531.00,284.24 L532.00,284.35 L533.00,284.45 L534.00,284.55 L535.00,284.65 L536.00,284.75 L537.00,284.84 L538.00,284.93 L539.00,285.02 L540.00,285.11 L541.00,285.19 L542.00,285.27 L543.00,285.35 L544.00,285.43 L545.00,285.51 L546.00,285.58 L547.00,285.65 L548.00,285.73 L549.00,285.80 L550.00,285.86 L551.00,285.93 L552.00,286.00 L553.00,286.06 L554.00,286.12 L555.00,286.19 L556.00,286.25 L557.00,286.31 L558.00,286.37 L559.00,286.42 L560.00,286.48 L561.00,286.54 L562.00,286.59 L563.00,286.64 L564.00,286.70 L565.00,286.75 L566.00,286.80 L567.00,286.85 L568.00,286.90 L569.00,286.95 L570.00,287.00 L571.00,287.04 L572.00,287.09 L573.00,287.14 L574.00,287.18 L575.00,287.23 L576.00,287.27 L577.00,287.31 L578.00,287.36 L579.00,287.40 L580.00,287.44 L581.00,287.48 L582.00,287.52 L583.00,287.56 L584.00,287.60 L585.00,287.64 L586.00,287.68 L587.00,287.72 L588.00,287.76 L589.00,287.80 L590.00,287.83 L591.00,287.87 L592.00,287.90 L593.00,287.94 L594.00,287.98 L595.00,288.01 L596.00,288.04 L597.00,288.08 L598.00,288.11 L599.00,288.15 L600.00,288.18 L601.00,288.21 L602.00,288.24 L603.00,288.27 L604.00,288.31 L605.00,288.34 L606.00,288.37 L607.00,288.40 L608.00,288.43 L609.00,288.46 L610.00,288.49 L611.00,288.52 L612.00,288.54 L613.00,288.57 L614.00,288.60 L615.00,288.63 L616.00,288.66 L617.00,288.68 L618.00,288.71 L619.00,288.74 L620.00,288.76 L621.00,288.79 L622.50,288.83" fill="none" stroke="#4400c0" stroke-width="3.6" stroke-dasharray="7 3.5" stroke-dashoffset="0.35" stroke-linejoin="round" clip-path="url(#ca)"/><path d="M42.00,289.07 L43.00,289.05 L44.00,289.03 L45.00,289.00 L46.00,288.98 L47.00,288.96 L48.00,288.93 L49.00,288.91 L50.00,288.88 L51.00,288.86 L52.00,288.83 L53.00,288.81 L54.00,288.78 L55.00,288.75 L56.00,288.73 L57.00,288.70 L58.00,288.67 L59.00,288.64 L60.00,288.62 L61.00,288.59 L62.00,288.56 L63.00,288.53 L64.00,288.50 L65.00,288.47 L66.00,288.44 L67.00,288.41 L68.00,288.38 L69.00,288.35 L70.00,288.32 L71.00,288.29 L72.00,288.26 L73.00,288.22 L74.00,288.19 L75.00,288.16 L76.00,288.13 L77.00,288.09 L78.00,288.06 L79.00,288.02 L80.00,287.99 L81.00,287.95 L82.00,287.92 L83.00,287.88 L84.00,287.84 L85.00,287.80 L86.00,287.77 L87.00,287.73 L88.00,287.69 L89.00,287.65 L90.00,287.61 L91.00,287.57 L92.00,287.53 L93.00,287.49 L94.00,287.44 L95.00,287.40 L96.00,287.36 L97.00,287.31 L98.00,287.27 L99.00,287.22 L100.00,287.18 L101.00,287.13 L102.00,287.08 L103.00,287.03 L104.00,286.99 L105.00,286.94 L106.00,286.89 L107.00,286.83 L108.00,286.78 L109.00,286.73 L110.00,286.68 L111.00,286.62 L112.00,286.57 L113.00,286.51 L114.00,286.45 L115.00,286.40 L116.00,286.34 L117.00,286.28 L118.00,286.22 L119.00,286.15 L120.00,286.09 L121.00,286.03 L122.00,285.96 L123.00,285.90 L124.00,285.83 L125.00,285.76 L126.00,285.69 L127.00,285.62 L128.00,285.55 L129.00,285.48 L130.00,285.40 L131.00,285.32 L132.00,285.25 L133.00,285.17 L134.00,285.09 L135.00,285.01 L136.00,284.92 L137.00,284.84 L138.00,284.75 L139.00,284.67 L140.00,284.58 L141.00,284.49 L142.00,284.39 L143.00,284.30 L144.00,284.20 L145.00,284.10 L146.00,284.00 L147.00,283.90 L148.00,283.80 L149.00,283.69 L150.00,283.58 L151.00,283.47 L152.00,283.36 L153.00,283.25 L154.00,283.13 L155.00,283.01 L156.00,282.89 L157.00,282.77 L158.00,282.64 L159.00,282.51 L160.00,282.38 L161.00,282.25 L162.00,282.11 L163.00,281.97 L164.00,281.83 L165.00,281.68 L166.00,281.53 L167.00,281.38 L168.00,281.23 L169.00,281.07 L170.00,280.91 L171.00,280.75 L172.00,280.58 L173.00,280.41 L174.00,280.23 L175.00,280.05 L176.00,279.87 L177.00,279.69 L178.00,279.49 L179.00,279.30 L180.00,279.10 L181.00,278.90 L182.00,278.69 L183.00,278.48 L184.00,278.26 L185.00,278.04 L186.00,277.82 L187.00,277.58 L188.00,277.35 L189.00,277.11 L190.00,276.86 L191.00,276.61 L192.00,276.35 L193.00,276.08 L194.00,275.81 L195.00,275.53 L196.00,275.25 L197.00,274.96 L198.00,274.66 L199.00,274.36 L200.00,274.05 L201.00,273.73 L202.00,273.40 L203.00,273.07 L204.00,272.73 L205.00,272.37 L206.00,272.02 L207.00,271.65 L208.00,271.27 L209.00,270.88 L210.00,270.49 L211.00,270.08 L212.00,269.66 L213.00,269.23 L214.00,268.79 L215.00,268.34 L216.00,267.88 L217.00,267.41 L218.00,266.92 L219.00,266.42 L220.00,265.91 L221.00,265.39 L222.00,264.85 L223.00,264.29 L224.00,263.72 L225.00,263.14 L226.00,262.54 L227.00,261.93 L228.00,261.30 L229.00,260.65 L230.00,259.98 L231.00,259.30 L232.00,258.59 L233.00,257.87 L234.00,257.13 L235.00,256.37 L236.00,255.59 L237.00,254.79 L238.00,253.96 L239.00,253.12 L240.00,252.25 L241.00,251.36 L242.00,250.44 L243.00,249.50 L244.00,248.53 L245.00,247.54 L246.00,246.53 L247.00,245.48 L248.00,244.41 L249.00,243.31 L250.00,242.19 L251.00,241.03 L252.00,239.85 L253.00,238.63 L254.00,237.39 L255.00,236.11 L256.00,234.80 L257.00,233.46 L258.00,232.09 L259.00,230.68 L260.00,229.24 L261.00,227.77 L262.00,226.27 L263.00,224.72 L264.00,223.15 L265.00,221.54 L266.00,219.89 L267.00,218.21 L268.00,216.49 L269.00,214.73 L270.00,212.94 L271.00,211.11 L272.00,209.25 L273.00,207.35 L274.00,205.41 L275.00,203.43 L276.00,201.42 L277.00,199.37 L278.00,197.29 L279.00,195.17 L280.00,193.01 L281.00,190.82 L282.00,188.59 L283.00,186.33 L284.00,184.03 L285.00,181.70 L286.00,179.34 L287.00,176.94 L288.00,174.51 L289.00,172.05 L290.00,169.56 L291.00,167.04 L292.00,164.49 L293.00,161.91 L294.00,159.30 L295.00,156.67 L296.00,154.02 L297.00,151.34 L298.00,148.64 L299.00,145.92 L300.00,143.17 L301.00,140.41 L302.00,137.64 L303.00,134.84 L304.00,132.04 L305.00,129.22 L306.00,126.39 L307.00,123.55 L308.00,120.71 L309.00,117.86 L310.00,115.00 L311.00,112.15 L312.00,109.29 L313.00,106.44 L314.00,103.59 L315.00,100.75 L316.00,97.92 L317.00,95.09 L318.00,92.28 L319.00,89.49 L320.00,86.71 L321.00,83.95 L322.00,81.22 L323.00,78.51 L324.00,75.82 L325.00,73.17 L326.00,70.55 L327.00,67.96 L328.00,65.41 L329.00,62.89 L330.00,60.42 L331.00,58.00 L332.00,55.62 L333.00,53.29 L334.00,51.01 L335.00,48.79 L336.00,46.62 L337.00,44.51 L338.00,42.47 L339.00,40.48 L340.00,38.57 L341.00,36.72 L342.00,34.94 L343.00,33.24 L344.00,31.61 L345.00,30.06 L346.00,28.58 L347.00,27.18 L348.00,25.87 L349.00,24.63 L350.00,23.48 L351.00,22.41 L352.00,21.43 L353.00,20.54 L354.00,19.72 L355.00,19.00 L356.00,18.36 L357.00,17.80 L358.00,17.33 L359.00,16.94 L360.00,16.64 L361.00,16.41 L362.00,16.27 L363.00,16.21 L364.00,16.22 L365.00,16.28 L366.00,16.41 L367.00,16.59 L368.00,16.83 L369.00,17.12 L370.00,17.46 L371.00,17.86 L372.00,18.30 L373.00,18.79 L374.00,19.41 L375.00,20.09 L376.00,20.82 L377.00,21.60 L378.00,22.44 L379.00,23.34 L380.00,24.28 L381.00,25.28 L382.00,26.32 L383.00,27.41 L384.00,28.56 L385.00,29.75 L386.00,30.99 L387.00,32.28 L388.00,33.62 L389.00,35.01 L390.00,36.46 L391.00,37.95 L392.00,39.51 L393.00,41.12 L394.00,42.80 L395.00,44.53 L396.00,46.33 L397.00,48.20 L398.00,50.13 L399.00,52.14 L400.00,54.22 L401.00,56.37 L402.00,58.61 L403.00,60.92 L404.00,63.31 L405.00,65.78 L406.00,68.34 L407.00,70.97 L408.00,73.70 L409.00,76.50 L410.00,79.39 L411.00,82.36 L412.00,85.41 L413.00,88.54 L414.00,91.75 L415.00,95.03 L416.00,98.38 L417.00,101.80 L418.00,105.28 L419.00,108.83 L420.00,112.42 L421.00,116.07 L422.00,119.76 L423.00,123.50 L424.00,127.26 L425.00,131.05 L426.00,134.87 L427.00,138.69 L428.00,142.53 L429.00,146.37 L430.00,150.21 L431.00,154.03 L432.00,157.84 L433.00,161.62 L434.00,165.38 L435.00,169.11 L436.00,172.79 L437.00,176.43 L438.00,180.02 L439.00,183.55 L440.00,187.03 L441.00,190.44 L442.00,193.79 L443.00,197.07 L444.00,200.27 L445.00,203.40 L446.00,206.45 L447.00,209.43 L448.00,212.32 L449.00,215.13 L450.00,217.86 L451.00,220.51 L452.00,223.07 L453.00,225.55 L454.00,227.95 L455.00,230.27 L456.00,232.50 L457.00,234.66 L458.00,236.74 L459.00,238.74 L460.00,240.66 L461.00,242.51 L462.00,244.29 L463.00,246.17 L464.00,247.96 L465.00,249.68 L466.00,251.32 L467.00,252.88 L468.00,254.38 L469.00,255.80 L470.00,257.16 L471.00,258.46 L472.00,259.70 L473.00,260.88 L474.00,262.01 L475.00,263.08 L476.00,264.11 L477.00,265.08 L478.00,265.93 L479.00,266.75 L480.00,267.53 L481.00,268.28 L482.00,268.99 L483.00,269.68 L484.00,270.34 L485.00,270.97 L486.00,271.58 L487.00,272.16 L488.00,272.72 L489.00,273.25 L490.00,273.77 L491.00,274.26 L492.00,274.73 L493.00,275.19 L494.00,275.62 L495.00,276.04 L496.00,276.45 L497.00,276.83 L498.00,277.21 L499.00,277.56 L500.00,277.91 L501.00,278.24 L502.00,278.55 L503.00,278.86 L504.00,279.15 L505.00,279.44 L506.00,279.71 L507.00,279.97 L508.00,280.22 L509.00,280.47 L510.00,280.70 L511.00,280.93 L512.00,281.14 L513.00,281.35 L514.00,281.55 L515.00,281.75 L516.00,281.94 L517.00,282.12 L518.00,282.29 L519.00,282.46 L520.00,282.63 L521.00,282.78 L522.00,282.94 L523.00,283.08 L524.00,283.23 L525.00,283.36 L526.00,283.50 L527.00,283.63 L528.00,283.75 L529.00,283.87 L530.00,283.99 L531.00,284.11 L532.00,284.22 L533.00,284.33 L534.00,284.43 L535.00,284.53 L536.00,284.63 L537.00,284.73 L538.00,284.82 L539.00,284.91 L540.00,285.00 L541.00,285.09 L542.00,285.17 L543.00,285.26 L544.00,285.34 L545.00,285.41 L546.00,285.49 L547.00,285.57 L548.00,285.64 L549.00,285.71 L550.00,285.78 L551.00,285.85 L552.00,285.92 L553.00,285.98 L554.00,286.05 L555.00,286.11 L556.00,286.17 L557.00,286.24 L558.00,286.30 L559.00,286.35 L560.00,286.41 L561.00,286.47 L562.00,286.52 L563.00,286.58 L564.00,286.63 L565.00,286.69 L566.00,286.74 L567.00,286.79 L568.00,286.84 L569.00,286.89 L570.00,286.94 L571.00,286.99 L572.00,287.03 L573.00,287.08 L574.00,287.13 L575.00,287.17 L576.00,287.22 L577.00,287.26 L578.00,287.31 L579.00,287.35 L580.00,287.39 L581.00,287.43 L582.00,287.48 L583.00,287.52 L584.00,287.56 L585.00,287.60 L586.00,287.64 L587.00,287.67 L588.00,287.71 L589.00,287.75 L590.00,287.79 L591.00,287.82 L592.00,287.86 L593.00,287.90 L594.00,287.93 L595.00,287.97 L596.00,288.00 L597.00,288.04 L598.00,288.07 L599.00,288.11 L600.00,288.14 L601.00,288.17 L602.00,288.20 L603.00,288.24 L604.00,288.27 L605.00,288.30 L606.00,288.33 L607.00,288.36 L608.00,288.39 L609.00,288.42 L610.00,288.45 L611.00,288.48 L612.00,288.51 L613.00,288.54 L614.00,288.57 L615.00,288.60 L616.00,288.62 L617.00,288.65 L618.00,288.68 L619.00,288.71 L620.00,288.73 L621.00,288.76 L622.50,288.80" fill="none" stroke="#1e00f2" stroke-width="3.6" stroke-dasharray="7 3.5" stroke-dashoffset="0.00" stroke-linejoin="round" clip-path="url(#ca)"/><path d="M42.00,349.49 L43.00,349.51 L44.00,349.52 L45.00,349.53 L46.00,349.53 L47.00,349.54 L48.00,349.55 L49.00,349.56 L50.00,349.57 L51.00,349.57 L52.00,349.58 L53.00,349.59 L54.00,349.59 L55.00,349.60 L56.00,349.60 L57.00,349.60 L58.00,349.61 L59.00,349.61 L60.00,349.61 L61.00,349.62 L62.00,349.62 L63.00,349.62 L64.00,349.62 L65.00,349.62 L66.00,349.62 L67.00,349.62 L68.00,349.62 L69.00,349.62 L70.00,349.62 L71.00,349.62 L72.00,349.62 L73.00,349.62 L74.00,349.61 L75.00,349.61 L76.00,349.61 L77.00,349.61 L78.00,349.60 L79.00,349.60 L80.00,349.60 L81.00,349.59 L82.00,349.59 L83.00,349.58 L84.00,349.58 L85.00,349.57 L86.00,349.57 L87.00,349.56 L88.00,349.56 L89.00,349.55 L90.00,349.55 L91.00,349.54 L92.00,349.54 L93.00,349.53 L94.00,349.53 L95.00,349.52 L96.00,349.51 L97.00,349.51 L98.00,349.50 L99.00,349.49 L100.00,349.49 L101.00,349.48 L102.00,349.47 L103.00,349.47 L104.00,349.46 L105.00,349.45 L106.00,349.45 L107.00,349.44 L108.00,349.44 L109.00,349.43 L110.00,349.42 L111.00,349.42 L112.00,349.41 L113.00,349.40 L114.00,349.40 L115.00,349.39 L116.00,349.38 L117.00,349.38 L118.00,349.37 L119.00,349.37 L120.00,349.36 L121.00,349.36 L122.00,349.35 L123.00,349.34 L124.00,349.34 L125.00,349.33 L126.00,349.33 L127.00,349.33 L128.00,349.32 L129.00,349.32 L130.00,349.31 L131.00,349.31 L132.00,349.31 L133.00,349.30 L134.00,349.30 L135.00,349.30 L136.00,349.29 L137.00,349.29 L138.00,349.29 L139.00,349.29 L140.00,349.29 L141.00,349.29 L142.00,349.28 L143.00,349.28 L144.00,349.28 L145.00,349.28 L146.00,349.28 L147.00,349.28 L148.00,349.29 L149.00,349.29 L150.00,349.29 L151.00,349.29 L152.00,349.29 L153.00,349.29 L154.00,349.29 L155.00,349.29 L156.00,349.29 L157.00,349.29 L158.00,349.29 L159.00,349.29 L160.00,349.29 L161.00,349.29 L162.00,349.29 L163.00,349.29 L164.00,349.29 L165.00,349.29 L166.00,349.29 L167.00,349.28 L168.00,349.28 L169.00,349.28 L170.00,349.28 L171.00,349.27 L172.00,349.27 L173.00,349.26 L174.00,349.26 L175.00,349.25 L176.00,349.25 L177.00,349.24 L178.00,349.23 L179.00,349.23 L180.00,349.22 L181.00,349.21 L182.00,349.20 L183.00,349.19 L184.00,349.17 L185.00,349.16 L186.00,349.15 L187.00,349.13 L188.00,349.12 L189.00,349.10 L190.00,349.09 L191.00,349.07 L192.00,349.05 L193.00,349.03 L194.00,349.01 L195.00,348.99 L196.00,348.96 L197.00,348.94 L198.00,348.91 L199.00,348.89 L200.00,348.86 L201.00,348.83 L202.00,348.80 L203.00,348.77 L204.00,348.74 L205.00,348.70 L206.00,348.67 L207.00,348.63 L208.00,348.59 L209.00,348.55 L210.00,348.51 L211.00,348.47 L212.00,348.42 L213.00,348.38 L214.00,348.33 L215.00,348.28 L216.00,348.23 L217.00,348.18 L218.00,348.13 L219.00,348.07 L220.00,348.01 L221.00,347.95 L222.00,347.89 L223.00,347.83 L224.00,347.77 L225.00,347.70 L226.00,347.63 L227.00,347.56 L228.00,347.49 L229.00,347.42 L230.00,347.34 L231.00,347.27 L232.00,347.19 L233.00,347.11 L234.00,347.02 L235.00,346.94 L236.00,346.85 L237.00,346.76 L238.00,346.66 L239.00,346.54 L240.00,346.42 L241.00,346.27 L242.00,346.09 L243.00,345.89 L244.00,345.66 L245.00,345.39 L246.00,345.08 L247.00,344.73 L248.00,344.33 L249.00,343.88 L250.00,343.38 L251.00,342.83 L252.00,342.26 L253.00,341.64 L254.00,341.00 L255.00,340.34 L256.00,339.66 L257.00,338.97 L258.00,338.27 L259.00,337.57 L260.00,336.87 L261.00,336.17 L262.00,335.49 L263.00,334.83 L264.00,334.18 L265.00,333.57 L266.00,332.98 L267.00,332.43 L268.00,331.91 L269.00,331.43 L270.00,330.98 L271.00,330.56 L272.00,330.16 L273.00,329.79 L274.00,329.44 L275.00,329.12 L276.00,328.81 L277.00,328.52 L278.00,328.25 L279.00,327.99 L280.00,327.75 L281.00,327.51 L282.00,327.29 L283.00,327.07 L284.00,326.85 L285.00,326.64 L286.00,326.43 L287.00,326.22 L288.00,326.01 L289.00,325.79 L290.00,325.57 L291.00,325.34 L292.00,325.10 L293.00,324.84 L294.00,324.58 L295.00,324.29 L296.00,324.00 L297.00,323.70 L298.00,323.41 L299.00,323.12 L300.00,322.84 L301.00,322.58 L302.00,322.35 L303.00,322.14 L304.00,321.97 L305.00,321.85 L306.00,321.77 L307.00,321.75 L308.00,321.79 L309.00,321.89 L310.00,322.07 L311.00,322.32 L312.00,322.66 L313.00,323.08 L314.00,323.61 L315.00,324.23 L316.00,324.96 L317.00,325.81 L318.00,326.78 L319.00,327.87 L320.00,329.09 L321.00,330.45 L322.00,331.95 L323.00,333.60 L324.00,335.41 L325.00,337.38 L326.00,339.51 L327.00,341.78 L328.00,344.18 L329.00,346.69 L330.00,349.29 L331.00,351.97 L332.00,354.72 L333.00,357.51 L334.00,360.33 L335.00,363.23 L336.00,366.30 L337.00,369.64 L338.00,373.34 L339.00,377.52 L340.00,382.26 L341.00,387.45 L342.00,392.81 L343.00,398.02 L344.00,402.78 L345.00,406.80 L346.00,409.94 L347.00,412.39 L348.00,414.33 L349.00,415.99 L350.00,417.57 L351.00,419.23 L352.00,420.98 L353.00,422.79 L354.00,424.59 L355.00,426.34 L356.00,427.99 L357.00,429.49 L358.00,430.80 L359.00,431.86 L360.00,432.63 L361.00,433.06 L362.00,433.10 L363.00,432.80 L364.00,432.18 L365.00,431.29 L366.00,430.15 L367.00,428.82 L368.00,427.33 L369.00,425.72 L370.00,424.03 L371.00,422.29 L372.00,420.54 L373.00,418.82 L374.00,417.12 L375.00,415.44 L376.00,413.77 L377.00,412.12 L378.00,410.49 L379.00,408.87 L380.00,407.25 L381.00,405.65 L382.00,404.05 L383.00,402.45 L384.00,400.85 L385.00,399.25 L386.00,397.65 L387.00,396.04 L388.00,394.43 L389.00,392.80 L390.00,391.16 L391.00,389.51 L392.00,387.86 L393.00,386.22 L394.00,384.61 L395.00,383.05 L396.00,381.54 L397.00,380.07 L398.00,378.61 L399.00,377.14 L400.00,375.66 L401.00,374.14 L402.00,372.56 L403.00,370.91 L404.00,369.17 L405.00,367.31 L406.00,365.33 L407.00,363.24 L408.00,361.05 L409.00,358.76 L410.00,356.40 L411.00,353.97 L412.00,351.49 L413.00,348.97 L414.00,346.43 L415.00,343.87 L416.00,341.31 L417.00,338.76 L418.00,336.23 L419.00,333.74 L420.00,331.30 L421.00,328.93 L422.00,326.62 L423.00,324.41 L424.00,322.29 L425.00,320.29 L426.00,318.41 L427.00,316.66 L428.00,315.05 L429.00,313.57 L430.00,312.23 L431.00,311.02 L432.00,309.94 L433.00,309.00 L434.00,308.19 L435.00,307.51 L436.00,306.96 L437.00,306.55 L438.00,306.27 L439.00,306.12 L440.00,306.10 L441.00,306.21 L442.00,306.46 L443.00,306.83 L444.00,307.33 L445.00,307.93 L446.00,308.63 L447.00,309.41 L448.00,310.27 L449.00,311.18 L450.00,312.15 L451.00,313.15 L452.00,314.17 L453.00,315.21 L454.00,316.25 L455.00,317.29 L456.00,318.31 L457.00,319.33 L458.00,320.34 L459.00,321.34 L460.00,322.32 L461.00,323.28 L462.00,324.23 L463.00,325.16 L464.00,326.07 L465.00,326.95 L466.00,327.81 L467.00,328.65 L468.00,329.46 L469.00,330.24 L470.00,331.00 L471.00,331.74 L472.00,332.45 L473.00,333.14 L474.00,333.80 L475.00,334.45 L476.00,335.07 L477.00,335.68 L478.00,336.26 L479.00,336.82 L480.00,337.36 L481.00,337.89 L482.00,338.40 L483.00,338.89 L484.00,339.36 L485.00,339.81 L486.00,340.25 L487.00,340.68 L488.00,341.09 L489.00,341.48 L490.00,341.86 L491.00,342.23 L492.00,342.59 L493.00,342.93 L494.00,343.26 L495.00,343.58 L496.00,343.89 L497.00,344.19 L498.00,344.48 L499.00,344.76 L500.00,345.03 L501.00,345.29 L502.00,345.55 L503.00,345.80 L504.00,346.04 L505.00,346.27 L506.00,346.49 L507.00,346.71 L508.00,346.92 L509.00,347.12 L510.00,347.32 L511.00,347.50 L512.00,347.69 L513.00,347.86 L514.00,348.03 L515.00,348.19 L516.00,348.34 L517.00,348.49 L518.00,348.63 L519.00,348.77 L520.00,348.89 L521.00,349.02 L522.00,349.13 L523.00,349.25 L524.00,349.35 L525.00,349.45 L526.00,349.55 L527.00,349.64 L528.00,349.72 L529.00,349.80 L530.00,349.88 L531.00,349.95 L532.00,350.01 L533.00,350.07 L534.00,350.13 L535.00,350.18 L536.00,350.23 L537.00,350.27 L538.00,350.31 L539.00,350.35 L540.00,350.38 L541.00,350.41 L542.00,350.43 L543.00,350.45 L544.00,350.47 L545.00,350.49 L546.00,350.50 L547.00,350.51 L548.00,350.51 L549.00,350.52 L550.00,350.52 L551.00,350.51 L552.00,350.51 L553.00,350.50 L554.00,350.49 L555.00,350.48 L556.00,350.47 L557.00,350.46 L558.00,350.44 L559.00,350.42 L560.00,350.40 L561.00,350.38 L562.00,350.36 L563.00,350.34 L564.00,350.31 L565.00,350.29 L566.00,350.26 L567.00,350.23 L568.00,350.21 L569.00,350.18 L570.00,350.15 L571.00,350.12 L572.00,350.09 L573.00,350.07 L574.00,350.04 L575.00,350.01 L576.00,349.98 L577.00,349.96 L578.00,349.93 L579.00,349.90 L580.00,349.88 L581.00,349.85 L582.00,349.83 L583.00,349.81 L584.00,349.79 L585.00,349.77 L586.00,349.75 L587.00,349.73 L588.00,349.72 L589.00,349.71 L590.00,349.70 L591.00,349.69 L592.00,349.68 L593.00,349.68 L594.00,349.67 L595.00,349.67 L596.00,349.68 L597.00,349.68 L598.00,349.69 L599.00,349.71 L600.00,349.72 L601.00,349.74 L602.00,349.76 L603.00,349.78 L604.00,349.81 L605.00,349.85 L606.00,349.88 L607.00,349.92 L608.00,349.97 L609.00,350.01 L610.00,350.07 L611.00,350.12 L612.00,350.18 L613.00,350.25 L614.00,350.32 L615.00,350.39 L616.00,350.47 L617.00,350.56 L618.00,350.65 L619.00,350.74 L620.00,350.85 L621.00,350.95 L622.50,351.12" fill="none" stroke="#cf1030" stroke-width="3.6" stroke-dasharray="7 3.5" stroke-dashoffset="0.00" stroke-linejoin="round" clip-path="url(#cb)"/><path d="M42.00,349.43 L43.00,349.45 L44.00,349.47 L45.00,349.48 L46.00,349.50 L47.00,349.52 L48.00,349.53 L49.00,349.54 L50.00,349.55 L51.00,349.57 L52.00,349.58 L53.00,349.59 L54.00,349.59 L55.00,349.60 L56.00,349.61 L57.00,349.61 L58.00,349.62 L59.00,349.62 L60.00,349.63 L61.00,349.63 L62.00,349.63 L63.00,349.63 L64.00,349.63 L65.00,349.63 L66.00,349.63 L67.00,349.63 L68.00,349.62 L69.00,349.62 L70.00,349.62 L71.00,349.61 L72.00,349.61 L73.00,349.60 L74.00,349.60 L75.00,349.59 L76.00,349.58 L77.00,349.57 L78.00,349.57 L79.00,349.56 L80.00,349.55 L81.00,349.54 L82.00,349.53 L83.00,349.52 L84.00,349.51 L85.00,349.50 L86.00,349.49 L87.00,349.48 L88.00,349.46 L89.00,349.45 L90.00,349.44 L91.00,349.43 L92.00,349.41 L93.00,349.40 L94.00,349.39 L95.00,349.37 L96.00,349.36 L97.00,349.35 L98.00,349.33 L99.00,349.32 L100.00,349.31 L101.00,349.29 L102.00,349.28 L103.00,349.27 L104.00,349.25 L105.00,349.24 L106.00,349.23 L107.00,349.21 L108.00,349.20 L109.00,349.19 L110.00,349.17 L111.00,349.16 L112.00,349.15 L113.00,349.13 L114.00,349.12 L115.00,349.11 L116.00,349.10 L117.00,349.09 L118.00,349.08 L119.00,349.07 L120.00,349.05 L121.00,349.04 L122.00,349.03 L123.00,349.03 L124.00,349.02 L125.00,349.01 L126.00,349.00 L127.00,348.99 L128.00,348.98 L129.00,348.98 L130.00,348.97 L131.00,348.97 L132.00,348.96 L133.00,348.96 L134.00,348.95 L135.00,348.95 L136.00,348.95 L137.00,348.95 L138.00,348.94 L139.00,348.94 L140.00,348.94 L141.00,348.94 L142.00,348.95 L143.00,348.95 L144.00,348.95 L145.00,348.95 L146.00,348.96 L147.00,348.96 L148.00,348.97 L149.00,348.97 L150.00,348.98 L151.00,348.98 L152.00,348.99 L153.00,348.99 L154.00,349.00 L155.00,349.00 L156.00,349.01 L157.00,349.01 L158.00,349.02 L159.00,349.02 L160.00,349.03 L161.00,349.03 L162.00,349.04 L163.00,349.04 L164.00,349.04 L165.00,349.04 L166.00,349.05 L167.00,349.05 L168.00,349.05 L169.00,349.05 L170.00,349.05 L171.00,349.04 L172.00,349.04 L173.00,349.04 L174.00,349.03 L175.00,349.02 L176.00,349.02 L177.00,349.01 L178.00,349.00 L179.00,348.99 L180.00,348.97 L181.00,348.96 L182.00,348.94 L183.00,348.92 L184.00,348.91 L185.00,348.89 L186.00,348.86 L187.00,348.84 L188.00,348.81 L189.00,348.78 L190.00,348.76 L191.00,348.72 L192.00,348.69 L193.00,348.65 L194.00,348.62 L195.00,348.58 L196.00,348.53 L197.00,348.49 L198.00,348.44 L199.00,348.39 L200.00,348.34 L201.00,348.28 L202.00,348.23 L203.00,348.17 L204.00,348.11 L205.00,348.04 L206.00,347.97 L207.00,347.90 L208.00,347.83 L209.00,347.75 L210.00,347.67 L211.00,347.59 L212.00,347.50 L213.00,347.41 L214.00,347.32 L215.00,347.22 L216.00,347.12 L217.00,347.02 L218.00,346.92 L219.00,346.81 L220.00,346.69 L221.00,346.58 L222.00,346.46 L223.00,346.33 L224.00,346.20 L225.00,346.07 L226.00,345.94 L227.00,345.80 L228.00,345.65 L229.00,345.51 L230.00,345.36 L231.00,345.20 L232.00,345.04 L233.00,344.87 L234.00,344.70 L235.00,344.52 L236.00,344.34 L237.00,344.14 L238.00,343.94 L239.00,343.73 L240.00,343.51 L241.00,343.28 L242.00,343.04 L243.00,342.78 L244.00,342.52 L245.00,342.24 L246.00,341.95 L247.00,341.65 L248.00,341.33 L249.00,341.00 L250.00,340.65 L251.00,340.29 L252.00,339.91 L253.00,339.53 L254.00,339.14 L255.00,338.73 L256.00,338.32 L257.00,337.90 L258.00,337.48 L259.00,337.05 L260.00,336.63 L261.00,336.19 L262.00,335.76 L263.00,335.33 L264.00,334.90 L265.00,334.48 L266.00,334.05 L267.00,333.64 L268.00,333.23 L269.00,332.83 L270.00,332.44 L271.00,332.06 L272.00,331.70 L273.00,331.35 L274.00,331.03 L275.00,330.73 L276.00,330.45 L277.00,330.20 L278.00,329.98 L279.00,329.79 L280.00,329.64 L281.00,329.52 L282.00,329.43 L283.00,329.38 L284.00,329.34 L285.00,329.33 L286.00,329.32 L287.00,329.32 L288.00,329.32 L289.00,329.31 L290.00,329.28 L291.00,329.24 L292.00,329.19 L293.00,329.14 L294.00,329.09 L295.00,329.04 L296.00,328.99 L297.00,328.96 L298.00,328.94 L299.00,328.94 L300.00,328.96 L301.00,329.01 L302.00,329.09 L303.00,329.20 L304.00,329.35 L305.00,329.55 L306.00,329.79 L307.00,330.07 L308.00,330.42 L309.00,330.81 L310.00,331.27 L311.00,331.80 L312.00,332.39 L313.00,333.06 L314.00,333.80 L315.00,334.63 L316.00,335.54 L317.00,336.53 L318.00,337.62 L319.00,338.81 L320.00,340.10 L321.00,341.48 L322.00,342.98 L323.00,344.59 L324.00,346.32 L325.00,348.18 L326.00,350.17 L327.00,352.33 L328.00,354.64 L329.00,357.10 L330.00,359.69 L331.00,362.39 L332.00,365.20 L333.00,368.08 L334.00,371.03 L335.00,374.01 L336.00,377.01 L337.00,380.01 L338.00,382.99 L339.00,385.93 L340.00,388.80 L341.00,391.59 L342.00,394.28 L343.00,396.84 L344.00,399.27 L345.00,401.53 L346.00,403.64 L347.00,405.60 L348.00,407.40 L349.00,409.04 L350.00,410.52 L351.00,411.85 L352.00,413.02 L353.00,414.03 L354.00,414.88 L355.00,415.58 L356.00,416.12 L357.00,416.49 L358.00,416.71 L359.00,416.77 L360.00,416.67 L361.00,416.41 L362.00,415.99 L363.00,415.41 L364.00,414.67 L365.00,413.77 L366.00,412.72 L367.00,411.55 L368.00,410.26 L369.00,408.89 L370.00,407.44 L371.00,405.93 L372.00,404.39 L373.00,402.82 L374.00,401.26 L375.00,399.72 L376.00,398.21 L377.00,396.75 L378.00,395.37 L379.00,394.08 L380.00,392.89 L381.00,391.84 L382.00,390.93 L383.00,390.17 L384.00,389.54 L385.00,388.91 L386.00,388.15 L387.00,387.13 L388.00,385.80 L389.00,384.29 L390.00,382.77 L391.00,381.37 L392.00,380.13 L393.00,379.02 L394.00,378.02 L395.00,377.11 L396.00,376.27 L397.00,375.48 L398.00,374.73 L399.00,373.98 L400.00,373.22 L401.00,372.43 L402.00,371.59 L403.00,370.67 L404.00,369.67 L405.00,368.55 L406.00,367.31 L407.00,365.95 L408.00,364.46 L409.00,362.83 L410.00,361.06 L411.00,359.14 L412.00,357.10 L413.00,354.95 L414.00,352.71 L415.00,350.40 L416.00,348.04 L417.00,345.65 L418.00,343.23 L419.00,340.82 L420.00,338.42 L421.00,336.05 L422.00,333.74 L423.00,331.49 L424.00,329.32 L425.00,327.23 L426.00,325.23 L427.00,323.31 L428.00,321.49 L429.00,319.77 L430.00,318.15 L431.00,316.65 L432.00,315.26 L433.00,313.99 L434.00,312.85 L435.00,311.84 L436.00,310.97 L437.00,310.24 L438.00,309.65 L439.00,309.22 L440.00,308.94 L441.00,308.83 L442.00,308.87 L443.00,309.04 L444.00,309.35 L445.00,309.77 L446.00,310.30 L447.00,310.93 L448.00,311.64 L449.00,312.42 L450.00,313.27 L451.00,314.17 L452.00,315.10 L453.00,316.07 L454.00,317.05 L455.00,318.05 L456.00,319.04 L457.00,320.04 L458.00,321.04 L459.00,322.03 L460.00,323.02 L461.00,324.00 L462.00,324.98 L463.00,325.94 L464.00,326.89 L465.00,327.82 L466.00,328.73 L467.00,329.62 L468.00,330.49 L469.00,331.33 L470.00,332.15 L471.00,332.93 L472.00,333.69 L473.00,334.43 L474.00,335.13 L475.00,335.82 L476.00,336.47 L477.00,337.11 L478.00,337.72 L479.00,338.30 L480.00,338.87 L481.00,339.41 L482.00,339.93 L483.00,340.43 L484.00,340.91 L485.00,341.37 L486.00,341.82 L487.00,342.24 L488.00,342.65 L489.00,343.04 L490.00,343.41 L491.00,343.77 L492.00,344.12 L493.00,344.45 L494.00,344.76 L495.00,345.06 L496.00,345.35 L497.00,345.63 L498.00,345.89 L499.00,346.15 L500.00,346.39 L501.00,346.63 L502.00,346.85 L503.00,347.07 L504.00,347.28 L505.00,347.47 L506.00,347.66 L507.00,347.84 L508.00,348.01 L509.00,348.17 L510.00,348.33 L511.00,348.48 L512.00,348.61 L513.00,348.75 L514.00,348.87 L515.00,348.99 L516.00,349.10 L517.00,349.20 L518.00,349.29 L519.00,349.38 L520.00,349.47 L521.00,349.54 L522.00,349.62 L523.00,349.68 L524.00,349.74 L525.00,349.80 L526.00,349.85 L527.00,349.89 L528.00,349.93 L529.00,349.97 L530.00,350.00 L531.00,350.03 L532.00,350.05 L533.00,350.07 L534.00,350.08 L535.00,350.10 L536.00,350.11 L537.00,350.11 L538.00,350.11 L539.00,350.12 L540.00,350.11 L541.00,350.11 L542.00,350.10 L543.00,350.10 L544.00,350.09 L545.00,350.08 L546.00,350.06 L547.00,350.05 L548.00,350.03 L549.00,350.02 L550.00,350.00 L551.00,349.99 L552.00,349.97 L553.00,349.96 L554.00,349.94 L555.00,349.92 L556.00,349.91 L557.00,349.90 L558.00,349.88 L559.00,349.87 L560.00,349.86 L561.00,349.85 L562.00,349.84 L563.00,349.84 L564.00,349.83 L565.00,349.83 L566.00,349.83 L567.00,349.83 L568.00,349.83 L569.00,349.83 L570.00,349.84 L571.00,349.84 L572.00,349.85 L573.00,349.86 L574.00,349.86 L575.00,349.87 L576.00,349.88 L577.00,349.90 L578.00,349.91 L579.00,349.92 L580.00,349.94 L581.00,349.95 L582.00,349.97 L583.00,349.98 L584.00,350.00 L585.00,350.02 L586.00,350.03 L587.00,350.05 L588.00,350.07 L589.00,350.09 L590.00,350.11 L591.00,350.13 L592.00,350.15 L593.00,350.17 L594.00,350.19 L595.00,350.21 L596.00,350.23 L597.00,350.26 L598.00,350.28 L599.00,350.30 L600.00,350.32 L601.00,350.34 L602.00,350.36 L603.00,350.38 L604.00,350.40 L605.00,350.42 L606.00,350.44 L607.00,350.46 L608.00,350.48 L609.00,350.50 L610.00,350.51 L611.00,350.53 L612.00,350.55 L613.00,350.56 L614.00,350.58 L615.00,350.59 L616.00,350.61 L617.00,350.62 L618.00,350.63 L619.00,350.64 L620.00,350.65 L621.00,350.66 L622.50,350.67" fill="none" stroke="#9b0a50" stroke-width="3.6" stroke-linejoin="round" clip-path="url(#cb)"/><path d="M42.00,349.45 L43.00,349.60 L44.00,349.72 L45.00,349.83 L46.00,349.92 L47.00,350.00 L48.00,350.06 L49.00,350.10 L50.00,350.13 L51.00,350.15 L52.00,350.15 L53.00,350.14 L54.00,350.12 L55.00,350.09 L56.00,350.06 L57.00,350.01 L58.00,349.95 L59.00,349.89 L60.00,349.82 L61.00,349.74 L62.00,349.66 L63.00,349.58 L64.00,349.49 L65.00,349.40 L66.00,349.31 L67.00,349.22 L68.00,349.12 L69.00,349.03 L70.00,348.94 L71.00,348.85 L72.00,348.76 L73.00,348.67 L74.00,348.59 L75.00,348.52 L76.00,348.45 L77.00,348.39 L78.00,348.33 L79.00,348.28 L80.00,348.25 L81.00,348.22 L82.00,348.20 L83.00,348.19 L84.00,348.18 L85.00,348.19 L86.00,348.20 L87.00,348.22 L88.00,348.24 L89.00,348.27 L90.00,348.31 L91.00,348.35 L92.00,348.40 L93.00,348.45 L94.00,348.51 L95.00,348.57 L96.00,348.63 L97.00,348.69 L98.00,348.76 L99.00,348.82 L100.00,348.89 L101.00,348.96 L102.00,349.03 L103.00,349.10 L104.00,349.16 L105.00,349.23 L106.00,349.30 L107.00,349.36 L108.00,349.42 L109.00,349.48 L110.00,349.53 L111.00,349.58 L112.00,349.63 L113.00,349.67 L114.00,349.71 L115.00,349.75 L116.00,349.78 L117.00,349.81 L118.00,349.84 L119.00,349.86 L120.00,349.88 L121.00,349.89 L122.00,349.91 L123.00,349.92 L124.00,349.92 L125.00,349.93 L126.00,349.93 L127.00,349.93 L128.00,349.92 L129.00,349.91 L130.00,349.90 L131.00,349.89 L132.00,349.88 L133.00,349.86 L134.00,349.84 L135.00,349.82 L136.00,349.79 L137.00,349.77 L138.00,349.74 L139.00,349.71 L140.00,349.68 L141.00,349.64 L142.00,349.61 L143.00,349.57 L144.00,349.53 L145.00,349.49 L146.00,349.45 L147.00,349.40 L148.00,349.36 L149.00,349.31 L150.00,349.26 L151.00,349.21 L152.00,349.16 L153.00,349.11 L154.00,349.06 L155.00,349.01 L156.00,348.95 L157.00,348.90 L158.00,348.84 L159.00,348.78 L160.00,348.73 L161.00,348.67 L162.00,348.61 L163.00,348.55 L164.00,348.49 L165.00,348.43 L166.00,348.37 L167.00,348.31 L168.00,348.25 L169.00,348.19 L170.00,348.13 L171.00,348.07 L172.00,348.01 L173.00,347.95 L174.00,347.89 L175.00,347.83 L176.00,347.77 L177.00,347.72 L178.00,347.66 L179.00,347.60 L180.00,347.54 L181.00,347.49 L182.00,347.43 L183.00,347.38 L184.00,347.33 L185.00,347.27 L186.00,347.22 L187.00,347.17 L188.00,347.12 L189.00,347.08 L190.00,347.03 L191.00,346.98 L192.00,346.93 L193.00,346.89 L194.00,346.84 L195.00,346.79 L196.00,346.74 L197.00,346.69 L198.00,346.64 L199.00,346.59 L200.00,346.54 L201.00,346.48 L202.00,346.43 L203.00,346.37 L204.00,346.31 L205.00,346.25 L206.00,346.19 L207.00,346.12 L208.00,346.05 L209.00,345.98 L210.00,345.90 L211.00,345.82 L212.00,345.74 L213.00,345.66 L214.00,345.57 L215.00,345.47 L216.00,345.37 L217.00,345.27 L218.00,345.16 L219.00,345.05 L220.00,344.94 L221.00,344.81 L222.00,344.69 L223.00,344.55 L224.00,344.41 L225.00,344.27 L226.00,344.12 L227.00,343.96 L228.00,343.80 L229.00,343.63 L230.00,343.45 L231.00,343.27 L232.00,343.08 L233.00,342.88 L234.00,342.67 L235.00,342.46 L236.00,342.24 L237.00,342.01 L238.00,341.77 L239.00,341.52 L240.00,341.27 L241.00,341.00 L242.00,340.73 L243.00,340.45 L244.00,340.17 L245.00,339.89 L246.00,339.60 L247.00,339.31 L248.00,339.03 L249.00,338.74 L250.00,338.47 L251.00,338.19 L252.00,337.92 L253.00,337.66 L254.00,337.41 L255.00,337.18 L256.00,336.95 L257.00,336.74 L258.00,336.54 L259.00,336.36 L260.00,336.20 L261.00,336.06 L262.00,335.94 L263.00,335.84 L264.00,335.76 L265.00,335.71 L266.00,335.67 L267.00,335.66 L268.00,335.67 L269.00,335.71 L270.00,335.76 L271.00,335.83 L272.00,335.93 L273.00,336.05 L274.00,336.18 L275.00,336.34 L276.00,336.52 L277.00,336.72 L278.00,336.94 L279.00,337.18 L280.00,337.43 L281.00,337.71 L282.00,338.01 L283.00,338.33 L284.00,338.66 L285.00,339.02 L286.00,339.39 L287.00,339.78 L288.00,340.20 L289.00,340.64 L290.00,341.10 L291.00,341.58 L292.00,342.09 L293.00,342.62 L294.00,343.18 L295.00,343.77 L296.00,344.38 L297.00,345.02 L298.00,345.70 L299.00,346.40 L300.00,347.14 L301.00,347.90 L302.00,348.71 L303.00,349.54 L304.00,350.41 L305.00,351.32 L306.00,352.26 L307.00,353.24 L308.00,354.26 L309.00,355.31 L310.00,356.41 L311.00,357.53 L312.00,358.69 L313.00,359.87 L314.00,361.07 L315.00,362.29 L316.00,363.52 L317.00,364.77 L318.00,366.02 L319.00,367.27 L320.00,368.53 L321.00,369.78 L322.00,371.02 L323.00,372.26 L324.00,373.47 L325.00,374.67 L326.00,375.85 L327.00,377.00 L328.00,378.12 L329.00,379.21 L330.00,380.27 L331.00,381.27 L332.00,382.22 L333.00,383.11 L334.00,383.91 L335.00,384.63 L336.00,385.24 L337.00,385.74 L338.00,386.12 L339.00,386.40 L340.00,386.59 L341.00,386.69 L342.00,386.74 L343.00,386.73 L344.00,386.69 L345.00,386.62 L346.00,386.55 L347.00,386.48 L348.00,386.43 L349.00,386.38 L350.00,386.33 L351.00,386.26 L352.00,386.18 L353.00,386.06 L354.00,385.89 L355.00,385.68 L356.00,385.40 L357.00,385.05 L358.00,384.63 L359.00,384.15 L360.00,383.62 L361.00,383.04 L362.00,382.45 L363.00,381.83 L364.00,381.21 L365.00,380.60 L366.00,380.00 L367.00,379.43 L368.00,378.89 L369.00,378.39 L370.00,377.92 L371.00,377.49 L372.00,377.11 L373.00,376.77 L374.00,376.49 L375.00,376.26 L376.00,376.09 L377.00,375.99 L378.00,375.95 L379.00,375.99 L380.00,376.10 L381.00,376.29 L382.00,376.56 L383.00,376.92 L384.00,377.37 L385.00,377.92 L386.00,378.55 L387.00,379.26 L388.00,380.03 L389.00,380.85 L390.00,381.70 L391.00,382.58 L392.00,383.45 L393.00,384.32 L394.00,385.17 L395.00,385.98 L396.00,386.75 L397.00,387.44 L398.00,388.06 L399.00,388.59 L400.00,389.02 L401.00,389.32 L402.00,389.50 L403.00,389.55 L404.00,389.47 L405.00,389.25 L406.00,388.89 L407.00,388.38 L408.00,387.73 L409.00,386.92 L410.00,385.96 L411.00,384.84 L412.00,383.55 L413.00,382.10 L414.00,380.47 L415.00,378.67 L416.00,376.69 L417.00,374.53 L418.00,372.18 L419.00,369.68 L420.00,367.04 L421.00,364.30 L422.00,361.49 L423.00,358.64 L424.00,355.77 L425.00,352.90 L426.00,350.08 L427.00,347.33 L428.00,344.64 L429.00,342.02 L430.00,339.47 L431.00,336.99 L432.00,334.57 L433.00,332.23 L434.00,329.95 L435.00,327.75 L436.00,325.61 L437.00,323.55 L438.00,321.56 L439.00,319.66 L440.00,317.86 L441.00,316.16 L442.00,314.59 L443.00,313.14 L444.00,311.82 L445.00,310.65 L446.00,309.64 L447.00,308.78 L448.00,308.07 L449.00,307.49 L450.00,307.05 L451.00,306.74 L452.00,306.56 L453.00,306.49 L454.00,306.53 L455.00,306.69 L456.00,306.94 L457.00,307.30 L458.00,307.74 L459.00,308.27 L460.00,308.88 L461.00,309.57 L462.00,310.32 L463.00,311.14 L464.00,312.01 L465.00,312.93 L466.00,313.89 L467.00,314.88 L468.00,315.91 L469.00,316.96 L470.00,318.02 L471.00,319.09 L472.00,320.17 L473.00,321.24 L474.00,322.31 L475.00,323.36 L476.00,324.38 L477.00,325.39 L478.00,326.38 L479.00,327.34 L480.00,328.28 L481.00,329.20 L482.00,330.10 L483.00,330.97 L484.00,331.82 L485.00,332.64 L486.00,333.44 L487.00,334.21 L488.00,334.96 L489.00,335.68 L490.00,336.37 L491.00,337.04 L492.00,337.67 L493.00,338.29 L494.00,338.87 L495.00,339.44 L496.00,339.97 L497.00,340.49 L498.00,340.98 L499.00,341.45 L500.00,341.90 L501.00,342.32 L502.00,342.73 L503.00,343.12 L504.00,343.49 L505.00,343.83 L506.00,344.17 L507.00,344.48 L508.00,344.78 L509.00,345.06 L510.00,345.33 L511.00,345.58 L512.00,345.82 L513.00,346.04 L514.00,346.26 L515.00,346.46 L516.00,346.65 L517.00,346.82 L518.00,346.99 L519.00,347.15 L520.00,347.30 L521.00,347.44 L522.00,347.58 L523.00,347.70 L524.00,347.82 L525.00,347.94 L526.00,348.05 L527.00,348.15 L528.00,348.25 L529.00,348.35 L530.00,348.44 L531.00,348.53 L532.00,348.61 L533.00,348.69 L534.00,348.76 L535.00,348.83 L536.00,348.89 L537.00,348.96 L538.00,349.01 L539.00,349.07 L540.00,349.12 L541.00,349.16 L542.00,349.21 L543.00,349.25 L544.00,349.29 L545.00,349.32 L546.00,349.35 L547.00,349.38 L548.00,349.40 L549.00,349.43 L550.00,349.45 L551.00,349.47 L552.00,349.48 L553.00,349.50 L554.00,349.51 L555.00,349.52 L556.00,349.52 L557.00,349.53 L558.00,349.53 L559.00,349.54 L560.00,349.54 L561.00,349.54 L562.00,349.54 L563.00,349.53 L564.00,349.53 L565.00,349.52 L566.00,349.52 L567.00,349.51 L568.00,349.51 L569.00,349.50 L570.00,349.49 L571.00,349.48 L572.00,349.47 L573.00,349.47 L574.00,349.46 L575.00,349.45 L576.00,349.44 L577.00,349.43 L578.00,349.43 L579.00,349.42 L580.00,349.41 L581.00,349.41 L582.00,349.40 L583.00,349.40 L584.00,349.40 L585.00,349.39 L586.00,349.39 L587.00,349.40 L588.00,349.40 L589.00,349.40 L590.00,349.41 L591.00,349.42 L592.00,349.43 L593.00,349.44 L594.00,349.45 L595.00,349.47 L596.00,349.48 L597.00,349.50 L598.00,349.53 L599.00,349.55 L600.00,349.58 L601.00,349.61 L602.00,349.65 L603.00,349.68 L604.00,349.72 L605.00,349.77 L606.00,349.82 L607.00,349.87 L608.00,349.92 L609.00,349.98 L610.00,350.04 L611.00,350.10 L612.00,350.17 L613.00,350.25 L614.00,350.32 L615.00,350.41 L616.00,350.49 L617.00,350.58 L618.00,350.68 L619.00,350.78 L620.00,350.88 L621.00,350.99 L622.50,351.17" fill="none" stroke="#680084" stroke-width="3.6" stroke-dasharray="7 3.5" stroke-dashoffset="0.00" stroke-linejoin="round" clip-path="url(#cb)"/><path d="M42.00,349.37 L43.00,349.43 L44.00,349.48 L45.00,349.53 L46.00,349.57 L47.00,349.60 L48.00,349.63 L49.00,349.65 L50.00,349.66 L51.00,349.67 L52.00,349.68 L53.00,349.68 L54.00,349.67 L55.00,349.66 L56.00,349.65 L57.00,349.63 L58.00,349.61 L59.00,349.59 L60.00,349.56 L61.00,349.53 L62.00,349.50 L63.00,349.47 L64.00,349.43 L65.00,349.40 L66.00,349.36 L67.00,349.32 L68.00,349.29 L69.00,349.25 L70.00,349.21 L71.00,349.18 L72.00,349.14 L73.00,349.11 L74.00,349.08 L75.00,349.05 L76.00,349.02 L77.00,348.99 L78.00,348.97 L79.00,348.95 L80.00,348.93 L81.00,348.92 L82.00,348.91 L83.00,348.91 L84.00,348.90 L85.00,348.90 L86.00,348.91 L87.00,348.91 L88.00,348.92 L89.00,348.93 L90.00,348.95 L91.00,348.96 L92.00,348.98 L93.00,349.00 L94.00,349.02 L95.00,349.04 L96.00,349.06 L97.00,349.08 L98.00,349.11 L99.00,349.13 L100.00,349.16 L101.00,349.18 L102.00,349.21 L103.00,349.23 L104.00,349.26 L105.00,349.28 L106.00,349.30 L107.00,349.33 L108.00,349.35 L109.00,349.37 L110.00,349.39 L111.00,349.40 L112.00,349.42 L113.00,349.43 L114.00,349.45 L115.00,349.46 L116.00,349.47 L117.00,349.47 L118.00,349.48 L119.00,349.49 L120.00,349.49 L121.00,349.49 L122.00,349.50 L123.00,349.50 L124.00,349.50 L125.00,349.49 L126.00,349.49 L127.00,349.49 L128.00,349.48 L129.00,349.47 L130.00,349.47 L131.00,349.46 L132.00,349.45 L133.00,349.44 L134.00,349.43 L135.00,349.41 L136.00,349.40 L137.00,349.39 L138.00,349.37 L139.00,349.36 L140.00,349.34 L141.00,349.32 L142.00,349.30 L143.00,349.29 L144.00,349.27 L145.00,349.25 L146.00,349.23 L147.00,349.20 L148.00,349.18 L149.00,349.16 L150.00,349.14 L151.00,349.11 L152.00,349.09 L153.00,349.07 L154.00,349.04 L155.00,349.02 L156.00,348.99 L157.00,348.97 L158.00,348.94 L159.00,348.91 L160.00,348.89 L161.00,348.86 L162.00,348.84 L163.00,348.81 L164.00,348.78 L165.00,348.75 L166.00,348.73 L167.00,348.70 L168.00,348.67 L169.00,348.64 L170.00,348.61 L171.00,348.58 L172.00,348.54 L173.00,348.50 L174.00,348.45 L175.00,348.40 L176.00,348.34 L177.00,348.27 L178.00,348.19 L179.00,348.11 L180.00,348.01 L181.00,347.90 L182.00,347.79 L183.00,347.66 L184.00,347.51 L185.00,347.36 L186.00,347.19 L187.00,347.00 L188.00,346.80 L189.00,346.60 L190.00,346.39 L191.00,346.18 L192.00,345.97 L193.00,345.78 L194.00,345.59 L195.00,345.43 L196.00,345.28 L197.00,345.16 L198.00,345.07 L199.00,345.00 L200.00,344.94 L201.00,344.91 L202.00,344.89 L203.00,344.88 L204.00,344.89 L205.00,344.90 L206.00,344.92 L207.00,344.94 L208.00,344.97 L209.00,344.99 L210.00,345.01 L211.00,345.03 L212.00,345.04 L213.00,345.04 L214.00,345.03 L215.00,345.01 L216.00,344.97 L217.00,344.91 L218.00,344.83 L219.00,344.74 L220.00,344.63 L221.00,344.50 L222.00,344.35 L223.00,344.19 L224.00,344.02 L225.00,343.83 L226.00,343.62 L227.00,343.41 L228.00,343.18 L229.00,342.94 L230.00,342.68 L231.00,342.42 L232.00,342.15 L233.00,341.86 L234.00,341.57 L235.00,341.27 L236.00,340.96 L237.00,340.65 L238.00,340.32 L239.00,339.99 L240.00,339.66 L241.00,339.32 L242.00,338.98 L243.00,338.64 L244.00,338.29 L245.00,337.95 L246.00,337.62 L247.00,337.28 L248.00,336.95 L249.00,336.63 L250.00,336.32 L251.00,336.01 L252.00,335.72 L253.00,335.44 L254.00,335.18 L255.00,334.93 L256.00,334.69 L257.00,334.48 L258.00,334.28 L259.00,334.10 L260.00,333.94 L261.00,333.80 L262.00,333.67 L263.00,333.57 L264.00,333.48 L265.00,333.42 L266.00,333.37 L267.00,333.34 L268.00,333.33 L269.00,333.33 L270.00,333.36 L271.00,333.40 L272.00,333.46 L273.00,333.54 L274.00,333.63 L275.00,333.74 L276.00,333.86 L277.00,334.00 L278.00,334.16 L279.00,334.33 L280.00,334.51 L281.00,334.71 L282.00,334.93 L283.00,335.16 L284.00,335.40 L285.00,335.66 L286.00,335.93 L287.00,336.21 L288.00,336.51 L289.00,336.82 L290.00,337.15 L291.00,337.49 L292.00,337.85 L293.00,338.22 L294.00,338.60 L295.00,339.00 L296.00,339.42 L297.00,339.87 L298.00,340.35 L299.00,340.88 L300.00,341.45 L301.00,342.08 L302.00,342.77 L303.00,343.53 L304.00,344.37 L305.00,345.29 L306.00,346.30 L307.00,347.40 L308.00,348.62 L309.00,349.94 L310.00,351.38 L311.00,352.91 L312.00,354.36 L313.00,355.65 L314.00,356.81 L315.00,357.91 L316.00,359.01 L317.00,360.14 L318.00,361.29 L319.00,362.47 L320.00,363.67 L321.00,364.89 L322.00,366.12 L323.00,367.36 L324.00,368.60 L325.00,369.84 L326.00,371.08 L327.00,372.31 L328.00,373.53 L329.00,374.73 L330.00,375.91 L331.00,377.07 L332.00,378.19 L333.00,379.28 L334.00,380.32 L335.00,381.30 L336.00,382.23 L337.00,383.08 L338.00,383.87 L339.00,384.58 L340.00,385.23 L341.00,385.81 L342.00,386.33 L343.00,386.79 L344.00,387.20 L345.00,387.56 L346.00,387.87 L347.00,388.13 L348.00,388.35 L349.00,388.52 L350.00,388.63 L351.00,388.70 L352.00,388.72 L353.00,388.69 L354.00,388.61 L355.00,388.47 L356.00,388.29 L357.00,388.06 L358.00,387.79 L359.00,387.47 L360.00,387.13 L361.00,386.77 L362.00,386.39 L363.00,386.00 L364.00,385.59 L365.00,385.18 L366.00,384.75 L367.00,384.30 L368.00,383.84 L369.00,383.35 L370.00,382.84 L371.00,382.31 L372.00,381.76 L373.00,381.23 L374.00,380.71 L375.00,380.22 L376.00,379.78 L377.00,379.40 L378.00,379.09 L379.00,378.87 L380.00,378.76 L381.00,378.74 L382.00,378.81 L383.00,378.98 L384.00,379.24 L385.00,379.58 L386.00,380.00 L387.00,380.48 L388.00,381.02 L389.00,381.60 L390.00,382.21 L391.00,382.84 L392.00,383.49 L393.00,384.13 L394.00,384.77 L395.00,385.38 L396.00,385.96 L397.00,386.49 L398.00,386.97 L399.00,387.39 L400.00,387.73 L401.00,387.98 L402.00,388.13 L403.00,388.18 L404.00,388.13 L405.00,387.95 L406.00,387.66 L407.00,387.23 L408.00,386.67 L409.00,385.97 L410.00,385.12 L411.00,384.13 L412.00,383.00 L413.00,381.73 L414.00,380.32 L415.00,378.76 L416.00,377.06 L417.00,375.21 L418.00,373.22 L419.00,371.10 L420.00,368.86 L421.00,366.51 L422.00,364.06 L423.00,361.53 L424.00,358.93 L425.00,356.27 L426.00,353.56 L427.00,350.82 L428.00,348.05 L429.00,345.24 L430.00,342.40 L431.00,339.53 L432.00,336.63 L433.00,333.71 L434.00,330.78 L435.00,327.98 L436.00,325.48 L437.00,323.41 L438.00,321.95 L439.00,321.23 L440.00,320.76 L441.00,319.68 L442.00,318.04 L443.00,316.13 L444.00,314.27 L445.00,312.69 L446.00,311.42 L447.00,310.44 L448.00,309.71 L449.00,309.22 L450.00,308.92 L451.00,308.80 L452.00,308.83 L453.00,308.98 L454.00,309.21 L455.00,309.54 L456.00,309.95 L457.00,310.43 L458.00,310.98 L459.00,311.60 L460.00,312.28 L461.00,313.01 L462.00,313.79 L463.00,314.62 L464.00,315.49 L465.00,316.38 L466.00,317.31 L467.00,318.26 L468.00,319.23 L469.00,320.21 L470.00,321.19 L471.00,322.18 L472.00,323.16 L473.00,324.13 L474.00,325.08 L475.00,326.01 L476.00,326.92 L477.00,327.80 L478.00,328.65 L479.00,329.46 L480.00,330.24 L481.00,330.99 L482.00,331.71 L483.00,332.41 L484.00,333.08 L485.00,333.72 L486.00,334.35 L487.00,334.95 L488.00,335.54 L489.00,336.11 L490.00,336.67 L491.00,337.21 L492.00,337.74 L493.00,338.27 L494.00,338.78 L495.00,339.30 L496.00,339.80 L497.00,340.30 L498.00,340.79 L499.00,341.27 L500.00,341.74 L501.00,342.20 L502.00,342.65 L503.00,343.08 L504.00,343.50 L505.00,343.90 L506.00,344.29 L507.00,344.66 L508.00,345.01 L509.00,345.35 L510.00,345.66 L511.00,345.96 L512.00,346.23 L513.00,346.48 L514.00,346.70 L515.00,346.91 L516.00,347.09 L517.00,347.25 L518.00,347.39 L519.00,347.51 L520.00,347.62 L521.00,347.72 L522.00,347.80 L523.00,347.87 L524.00,347.93 L525.00,347.98 L526.00,348.02 L527.00,348.06 L528.00,348.09 L529.00,348.12 L530.00,348.15 L531.00,348.17 L532.00,348.20 L533.00,348.23 L534.00,348.26 L535.00,348.29 L536.00,348.33 L537.00,348.38 L538.00,348.42 L539.00,348.48 L540.00,348.53 L541.00,348.59 L542.00,348.64 L543.00,348.70 L544.00,348.76 L545.00,348.83 L546.00,348.89 L547.00,348.95 L548.00,349.01 L549.00,349.08 L550.00,349.14 L551.00,349.20 L552.00,349.25 L553.00,349.31 L554.00,349.36 L555.00,349.41 L556.00,349.45 L557.00,349.49 L558.00,349.53 L559.00,349.56 L560.00,349.59 L561.00,349.61 L562.00,349.63 L563.00,349.64 L564.00,349.64 L565.00,349.63 L566.00,349.62 L567.00,349.60 L568.00,349.57 L569.00,349.54 L570.00,349.50 L571.00,349.46 L572.00,349.41 L573.00,349.37 L574.00,349.32 L575.00,349.27 L576.00,349.22 L577.00,349.17 L578.00,349.13 L579.00,349.09 L580.00,349.05 L581.00,349.02 L582.00,348.99 L583.00,348.97 L584.00,348.96 L585.00,348.95 L586.00,348.96 L587.00,348.98 L588.00,349.01 L589.00,349.05 L590.00,349.09 L591.00,349.15 L592.00,349.21 L593.00,349.28 L594.00,349.35 L595.00,349.43 L596.00,349.51 L597.00,349.60 L598.00,349.69 L599.00,349.78 L600.00,349.87 L601.00,349.97 L602.00,350.06 L603.00,350.15 L604.00,350.24 L605.00,350.33 L606.00,350.41 L607.00,350.49 L608.00,350.57 L609.00,350.64 L610.00,350.70 L611.00,350.76 L612.00,350.81 L613.00,350.85 L614.00,350.88 L615.00,350.90 L616.00,350.92 L617.00,350.91 L618.00,350.90 L619.00,350.88 L620.00,350.84 L621.00,350.78 L622.50,350.67" fill="none" stroke="#4400c0" stroke-width="3.6" stroke-dasharray="7 3.5" stroke-dashoffset="0.00" stroke-linejoin="round" clip-path="url(#cb)"/><path d="M42.00,349.31 L43.00,349.32 L44.00,349.32 L45.00,349.33 L46.00,349.33 L47.00,349.34 L48.00,349.34 L49.00,349.35 L50.00,349.35 L51.00,349.36 L52.00,349.36 L53.00,349.37 L54.00,349.37 L55.00,349.37 L56.00,349.38 L57.00,349.38 L58.00,349.38 L59.00,349.38 L60.00,349.39 L61.00,349.39 L62.00,349.39 L63.00,349.39 L64.00,349.39 L65.00,349.39 L66.00,349.40 L67.00,349.40 L68.00,349.40 L69.00,349.40 L70.00,349.40 L71.00,349.40 L72.00,349.40 L73.00,349.40 L74.00,349.40 L75.00,349.40 L76.00,349.40 L77.00,349.39 L78.00,349.39 L79.00,349.39 L80.00,349.39 L81.00,349.39 L82.00,349.39 L83.00,349.39 L84.00,349.38 L85.00,349.38 L86.00,349.38 L87.00,349.38 L88.00,349.37 L89.00,349.37 L90.00,349.37 L91.00,349.37 L92.00,349.36 L93.00,349.36 L94.00,349.36 L95.00,349.35 L96.00,349.35 L97.00,349.34 L98.00,349.34 L99.00,349.34 L100.00,349.33 L101.00,349.33 L102.00,349.32 L103.00,349.32 L104.00,349.32 L105.00,349.31 L106.00,349.31 L107.00,349.30 L108.00,349.30 L109.00,349.29 L110.00,349.29 L111.00,349.28 L112.00,349.28 L113.00,349.27 L114.00,349.27 L115.00,349.26 L116.00,349.26 L117.00,349.25 L118.00,349.24 L119.00,349.24 L120.00,349.23 L121.00,349.23 L122.00,349.22 L123.00,349.22 L124.00,349.21 L125.00,349.20 L126.00,349.20 L127.00,349.19 L128.00,349.19 L129.00,349.18 L130.00,349.17 L131.00,349.17 L132.00,349.16 L133.00,349.16 L134.00,349.15 L135.00,349.14 L136.00,349.14 L137.00,349.13 L138.00,349.13 L139.00,349.12 L140.00,349.11 L141.00,349.11 L142.00,349.10 L143.00,349.10 L144.00,349.09 L145.00,349.08 L146.00,349.08 L147.00,349.07 L148.00,349.07 L149.00,349.06 L150.00,349.05 L151.00,349.05 L152.00,349.04 L153.00,349.04 L154.00,349.03 L155.00,349.02 L156.00,349.02 L157.00,349.01 L158.00,349.01 L159.00,349.00 L160.00,349.00 L161.00,348.99 L162.00,348.99 L163.00,348.98 L164.00,348.97 L165.00,348.97 L166.00,348.96 L167.00,348.96 L168.00,348.95 L169.00,348.94 L170.00,348.93 L171.00,348.92 L172.00,348.89 L173.00,348.86 L174.00,348.82 L175.00,348.77 L176.00,348.71 L177.00,348.63 L178.00,348.55 L179.00,348.44 L180.00,348.32 L181.00,348.18 L182.00,348.02 L183.00,347.84 L184.00,347.64 L185.00,347.41 L186.00,347.16 L187.00,346.89 L188.00,346.59 L189.00,346.28 L190.00,345.96 L191.00,345.64 L192.00,345.33 L193.00,345.04 L194.00,344.77 L195.00,344.52 L196.00,344.31 L197.00,344.15 L198.00,344.02 L199.00,343.93 L200.00,343.88 L201.00,343.86 L202.00,343.86 L203.00,343.89 L204.00,343.93 L205.00,344.00 L206.00,344.07 L207.00,344.16 L208.00,344.24 L209.00,344.33 L210.00,344.42 L211.00,344.50 L212.00,344.58 L213.00,344.64 L214.00,344.68 L215.00,344.70 L216.00,344.70 L217.00,344.67 L218.00,344.61 L219.00,344.53 L220.00,344.42 L221.00,344.29 L222.00,344.13 L223.00,343.95 L224.00,343.75 L225.00,343.53 L226.00,343.29 L227.00,343.04 L228.00,342.76 L229.00,342.48 L230.00,342.17 L231.00,341.86 L232.00,341.53 L233.00,341.19 L234.00,340.84 L235.00,340.48 L236.00,340.11 L237.00,339.74 L238.00,339.36 L239.00,338.97 L240.00,338.59 L241.00,338.20 L242.00,337.81 L243.00,337.43 L244.00,337.04 L245.00,336.66 L246.00,336.29 L247.00,335.93 L248.00,335.57 L249.00,335.22 L250.00,334.89 L251.00,334.56 L252.00,334.25 L253.00,333.96 L254.00,333.69 L255.00,333.43 L256.00,333.19 L257.00,332.97 L258.00,332.77 L259.00,332.59 L260.00,332.43 L261.00,332.29 L262.00,332.16 L263.00,332.06 L264.00,331.96 L265.00,331.89 L266.00,331.83 L267.00,331.79 L268.00,331.76 L269.00,331.75 L270.00,331.76 L271.00,331.78 L272.00,331.81 L273.00,331.86 L274.00,331.92 L275.00,332.00 L276.00,332.09 L277.00,332.19 L278.00,332.30 L279.00,332.43 L280.00,332.56 L281.00,332.71 L282.00,332.87 L283.00,333.05 L284.00,333.23 L285.00,333.42 L286.00,333.62 L287.00,333.83 L288.00,334.05 L289.00,334.28 L290.00,334.52 L291.00,334.76 L292.00,335.02 L293.00,335.28 L294.00,335.55 L295.00,335.82 L296.00,336.11 L297.00,336.43 L298.00,336.79 L299.00,337.19 L300.00,337.66 L301.00,338.19 L302.00,338.81 L303.00,339.52 L304.00,340.34 L305.00,341.27 L306.00,342.32 L307.00,343.52 L308.00,344.86 L309.00,346.36 L310.00,348.03 L311.00,349.82 L312.00,351.48 L313.00,352.84 L314.00,353.97 L315.00,354.99 L316.00,356.00 L317.00,357.05 L318.00,358.14 L319.00,359.27 L320.00,360.44 L321.00,361.63 L322.00,362.85 L323.00,364.09 L324.00,365.35 L325.00,366.62 L326.00,367.90 L327.00,369.18 L328.00,370.46 L329.00,371.74 L330.00,373.01 L331.00,374.27 L332.00,375.51 L333.00,376.73 L334.00,377.92 L335.00,379.08 L336.00,380.22 L337.00,381.31 L338.00,382.36 L339.00,383.36 L340.00,384.32 L341.00,385.22 L342.00,386.06 L343.00,386.84 L344.00,387.55 L345.00,388.18 L346.00,388.75 L347.00,389.23 L348.00,389.63 L349.00,389.94 L350.00,390.17 L351.00,390.33 L352.00,390.42 L353.00,390.44 L354.00,390.41 L355.00,390.34 L356.00,390.22 L357.00,390.07 L358.00,389.89 L359.00,389.69 L360.00,389.47 L361.00,389.25 L362.00,389.02 L363.00,388.78 L364.00,388.52 L365.00,388.23 L366.00,387.91 L367.00,387.54 L368.00,387.13 L369.00,386.66 L370.00,386.12 L371.00,385.52 L372.00,384.87 L373.00,384.20 L374.00,383.52 L375.00,382.86 L376.00,382.23 L377.00,381.67 L378.00,381.18 L379.00,380.80 L380.00,380.53 L381.00,380.37 L382.00,380.32 L383.00,380.36 L384.00,380.48 L385.00,380.69 L386.00,380.96 L387.00,381.29 L388.00,381.67 L389.00,382.09 L390.00,382.54 L391.00,383.02 L392.00,383.51 L393.00,384.01 L394.00,384.50 L395.00,384.98 L396.00,385.43 L397.00,385.86 L398.00,386.25 L399.00,386.58 L400.00,386.86 L401.00,387.08 L402.00,387.22 L403.00,387.27 L404.00,387.23 L405.00,387.09 L406.00,386.84 L407.00,386.46 L408.00,385.96 L409.00,385.33 L410.00,384.56 L411.00,383.66 L412.00,382.64 L413.00,381.49 L414.00,380.21 L415.00,378.82 L416.00,377.30 L417.00,375.67 L418.00,373.92 L419.00,372.05 L420.00,370.07 L421.00,367.97 L422.00,365.77 L423.00,363.46 L424.00,361.04 L425.00,358.51 L426.00,355.88 L427.00,353.15 L428.00,350.32 L429.00,347.38 L430.00,344.35 L431.00,341.23 L432.00,338.01 L433.00,334.69 L434.00,331.33 L435.00,328.14 L436.00,325.38 L437.00,323.32 L438.00,322.21 L439.00,322.28 L440.00,322.70 L441.00,322.02 L442.00,320.34 L443.00,318.13 L444.00,315.91 L445.00,314.05 L446.00,312.61 L447.00,311.55 L448.00,310.81 L449.00,310.37 L450.00,310.17 L451.00,310.18 L452.00,310.35 L453.00,310.63 L454.00,311.00 L455.00,311.44 L456.00,311.95 L457.00,312.51 L458.00,313.14 L459.00,313.81 L460.00,314.54 L461.00,315.30 L462.00,316.10 L463.00,316.94 L464.00,317.80 L465.00,318.69 L466.00,319.60 L467.00,320.52 L468.00,321.44 L469.00,322.37 L470.00,323.31 L471.00,324.23 L472.00,325.15 L473.00,326.05 L474.00,326.93 L475.00,327.79 L476.00,328.61 L477.00,329.40 L478.00,330.16 L479.00,330.87 L480.00,331.54 L481.00,332.18 L482.00,332.79 L483.00,333.36 L484.00,333.92 L485.00,334.44 L486.00,334.95 L487.00,335.45 L488.00,335.93 L489.00,336.40 L490.00,336.86 L491.00,337.32 L492.00,337.79 L493.00,338.25 L494.00,338.72 L495.00,339.20 L496.00,339.69 L497.00,340.18 L498.00,340.66 L499.00,341.15 L500.00,341.64 L501.00,342.12 L502.00,342.59 L503.00,343.05 L504.00,343.51 L505.00,343.95 L506.00,344.37 L507.00,344.78 L508.00,345.17 L509.00,345.54 L510.00,345.88 L511.00,346.20 L512.00,346.50 L513.00,346.77 L514.00,347.00 L515.00,347.20 L516.00,347.38 L517.00,347.53 L518.00,347.65 L519.00,347.75 L520.00,347.84 L521.00,347.90 L522.00,347.94 L523.00,347.97 L524.00,347.99 L525.00,348.00 L526.00,348.00 L527.00,347.99 L528.00,347.98 L529.00,347.97 L530.00,347.95 L531.00,347.94 L532.00,347.93 L533.00,347.92 L534.00,347.93 L535.00,347.94 L536.00,347.96 L537.00,347.99 L538.00,348.03 L539.00,348.08 L540.00,348.14 L541.00,348.20 L542.00,348.27 L543.00,348.34 L544.00,348.42 L545.00,348.50 L546.00,348.58 L547.00,348.67 L548.00,348.75 L549.00,348.84 L550.00,348.93 L551.00,349.01 L552.00,349.10 L553.00,349.18 L554.00,349.26 L555.00,349.33 L556.00,349.40 L557.00,349.47 L558.00,349.53 L559.00,349.58 L560.00,349.62 L561.00,349.66 L562.00,349.69 L563.00,349.70 L564.00,349.71 L565.00,349.71 L566.00,349.69 L567.00,349.66 L568.00,349.62 L569.00,349.57 L570.00,349.51 L571.00,349.45 L572.00,349.38 L573.00,349.30 L574.00,349.23 L575.00,349.15 L576.00,349.07 L577.00,349.00 L578.00,348.93 L579.00,348.86 L580.00,348.80 L581.00,348.75 L582.00,348.71 L583.00,348.68 L584.00,348.67 L585.00,348.66 L586.00,348.67 L587.00,348.70 L588.00,348.75 L589.00,348.81 L590.00,348.88 L591.00,348.97 L592.00,349.06 L593.00,349.17 L594.00,349.28 L595.00,349.40 L596.00,349.53 L597.00,349.66 L598.00,349.79 L599.00,349.93 L600.00,350.07 L601.00,350.20 L602.00,350.33 L603.00,350.46 L604.00,350.59 L605.00,350.70 L606.00,350.81 L607.00,350.91 L608.00,351.00 L609.00,351.08 L610.00,351.15 L611.00,351.20 L612.00,351.24 L613.00,351.25 L614.00,351.26 L615.00,351.24 L616.00,351.20 L617.00,351.14 L618.00,351.05 L619.00,350.94 L620.00,350.80 L621.00,350.64 L622.50,350.34" fill="none" stroke="#1e00f2" stroke-width="3.6" stroke-dasharray="7 3.5" stroke-dashoffset="0.00" stroke-linejoin="round" clip-path="url(#cb)"/><rect x="42.0" y="2.75" width="580.5" height="434.55" fill="none" stroke="#111" stroke-width="2.3"/><line x1="42.0" y1="292.45" x2="622.5" y2="292.45" stroke="#111" stroke-width="2.3"/><path d="M235.5,2.75 V9.25 M235.5,285.95 V298.95 M235.5,437.3 V430.8 M429.0,2.75 V9.25 M429.0,285.95 V298.95 M429.0,437.3 V430.8 M42.0,16.0 H48.5 M622.5,16.0 H616.0 M42.0,70.3 H48.5 M622.5,70.3 H616.0 M42.0,124.5 H48.5 M622.5,124.5 H616.0 M42.0,178.8 H48.5 M622.5,178.8 H616.0 M42.0,233.0 H48.5 M622.5,233.0 H616.0 M42.0,287.3 H48.5 M622.5,287.3 H616.0 M42.0,350.0 H48.5 M622.5,350.0 H616.0 M42.0,408.5 H48.5 M622.5,408.5 H616.0" stroke="#111" stroke-width="1.6" fill="none"/><line x1="67.4" y1="72.7" x2="94.6" y2="72.7" stroke="#cf1030" stroke-width="3.6" stroke-dasharray="7 3.5"/><line x1="67.4" y1="103.8" x2="94.6" y2="103.8" stroke="#9b0a50" stroke-width="3.6"/><line x1="67.4" y1="135.1" x2="94.6" y2="135.1" stroke="#680084" stroke-width="3.6" stroke-dasharray="7 3.5"/><line x1="67.4" y1="165.3" x2="94.6" y2="165.3" stroke="#4400c0" stroke-width="3.6" stroke-dasharray="7 3.5"/><line x1="67.4" y1="197.35" x2="94.6" y2="197.35" stroke="#1e00f2" stroke-width="3.6" stroke-dasharray="7 3.5"/><g class="t" opacity="0.999"><text x="104.57" y="81.4" font-size="25" textLength="153.19" lengthAdjust="spacingAndGlyphs">2,000 mM Ca</text><text x="103.89" y="112.4" font-size="25" textLength="150.98" lengthAdjust="spacingAndGlyphs">1,300 mM Ca</text><text x="104.63" y="145.2" font-size="25" textLength="131.14" lengthAdjust="spacingAndGlyphs">200 mM Ca</text><text x="104.63" y="176.2" font-size="25" textLength="117.23" lengthAdjust="spacingAndGlyphs">20 mM Ca</text><text x="104.64" y="207.8" font-size="25" textLength="102.16" lengthAdjust="spacingAndGlyphs">2 mM Ca</text><text x="257.68" y="71.2" font-size="15.5" textLength="19.27" lengthAdjust="spacingAndGlyphs">2+</text><text x="256.09" y="102.2" font-size="15.5" textLength="19.16" lengthAdjust="spacingAndGlyphs">2+</text><text x="236.90" y="135.0" font-size="15.5" textLength="18.83" lengthAdjust="spacingAndGlyphs">2+</text><text x="222.28" y="166.0" font-size="15.5" textLength="19.37" lengthAdjust="spacingAndGlyphs">2+</text><text x="207.98" y="197.6" font-size="15.5" textLength="19.27" lengthAdjust="spacingAndGlyphs">2+</text><text x="17.84" y="470.95" font-size="25" textLength="57.43" lengthAdjust="spacingAndGlyphs">1650</text><text x="203.45" y="470.95" font-size="25" textLength="56.90" lengthAdjust="spacingAndGlyphs">1700</text><text x="398.05" y="470.95" font-size="25" textLength="57.11" lengthAdjust="spacingAndGlyphs">1750</text><text x="592.54" y="470.95" font-size="25" textLength="57.43" lengthAdjust="spacingAndGlyphs">1800</text><text x="241.55" y="501.8" font-size="25" textLength="110.00" lengthAdjust="spacingAndGlyphs">frequency</text><text x="359.97" y="501.8" font-size="25" textLength="42.52" lengthAdjust="spacingAndGlyphs">(cm</text><text x="402.26" y="491.6" font-size="15" textLength="13.17" lengthAdjust="spacingAndGlyphs">-1</text><text x="418.30" y="501.8" font-size="25" textLength="6.53" lengthAdjust="spacingAndGlyphs">)</text><text transform="translate(20.4,197.98) rotate(-90)" x="0" y="0" font-size="26" textLength="123.15" lengthAdjust="spacingAndGlyphs">abs (norm)</text><text transform="translate(23.6,423.24) rotate(-90)" x="0" y="0" font-size="28" textLength="124.46" lengthAdjust="spacingAndGlyphs">2nd deriv.</text><text x="53.38" y="22.85" font-size="25" font-weight="bold" textLength="13.43" lengthAdjust="spacingAndGlyphs">a</text><text x="52.04" y="317.6" font-size="25" font-weight="bold" textLength="16.26" lengthAdjust="spacingAndGlyphs">b</text></g>
</svg>
</body></html>
